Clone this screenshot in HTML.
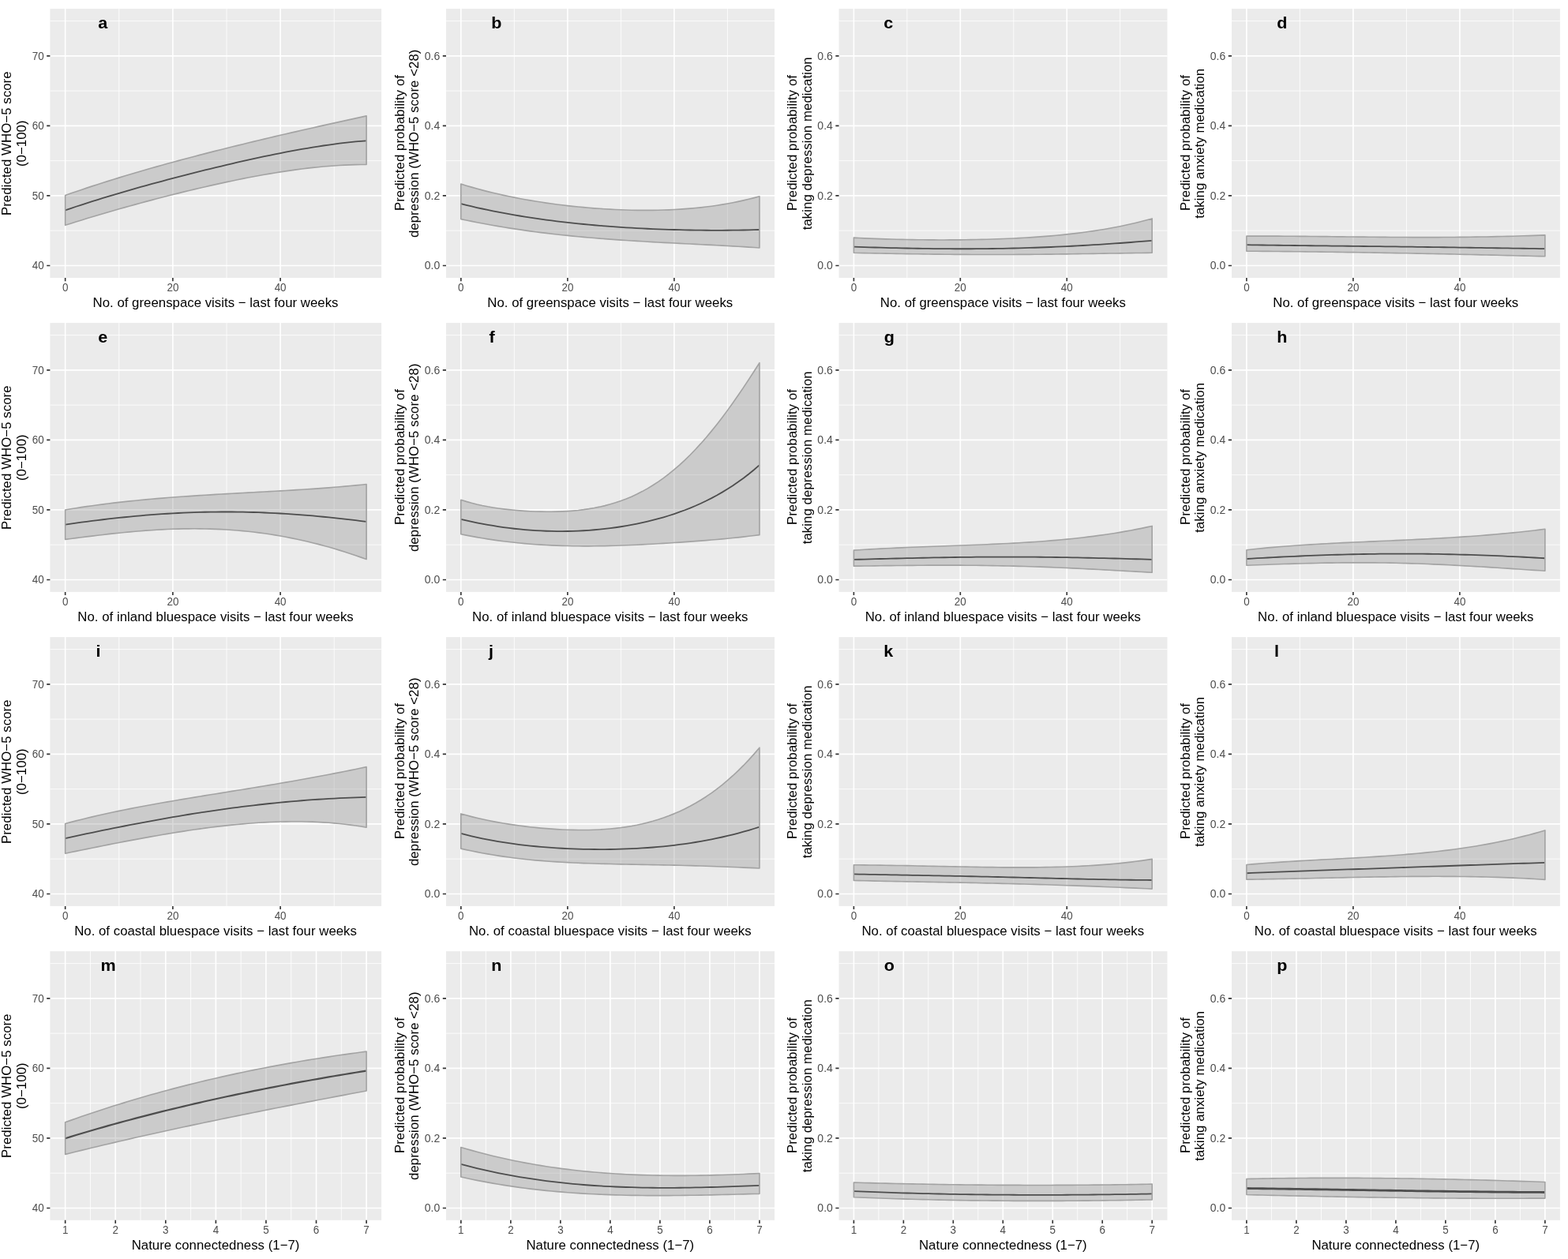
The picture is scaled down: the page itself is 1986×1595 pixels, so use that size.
<!DOCTYPE html>
<html lang="en"><head><meta charset="utf-8"><title>Predicted outcomes by nature visits and connectedness</title>
<style>
html,body{margin:0;padding:0;background:#fff}
body{width:1986px;height:1595px;overflow:hidden}
svg{display:block}
text{font-family:"Liberation Sans",Arial,Helvetica,sans-serif}
.tk{font-size:13.44px;fill:#4d4d4d}
.ax{font-size:16.8px;fill:#000}
.ay{letter-spacing:0.06px}
.axx{letter-spacing:0.02px}
.lb{font-size:19.6px;font-weight:bold;fill:#000}
.bg{fill:#ebebeb}
.gM{stroke:#fff;stroke-width:1.63;fill:none}
.gm{stroke:#fff;stroke-width:0.82;fill:none;stroke-opacity:1}
.t{stroke:#333;stroke-width:1.63;fill:none}
.rb{fill:#808080;fill-opacity:0.3;stroke:none}
.ro{fill:none;stroke:#a3a3a3;stroke-width:1.63;stroke-linejoin:round;stroke-opacity:1}
.ln{fill:none;stroke:#4d4d4d;stroke-width:1.8;stroke-linecap:butt}
</style></head><body>
<svg xmlns="http://www.w3.org/2000/svg" width="1986" height="1595" viewBox="0 0 1986 1595">
<rect width="1986" height="1595" fill="#fff"/>
<g id="panel-a">
<rect class="bg" x="63.4" y="11.1" width="419.7" height="340.85"/>
<path class="gm" d="M63.4 26.59H483.1M63.4 115.12H483.1M63.4 203.65H483.1M63.4 292.19H483.1M150.77 11.1V351.95M287 11.1V351.95M423.23 11.1V351.95"/>
<path class="gM" d="M63.4 70.86H483.1M63.4 159.39H483.1M63.4 247.92H483.1M63.4 336.45H483.1M82.65 11.1V351.95M218.88 11.1V351.95M355.11 11.1V351.95"/>
<polygon class="rb" points="82.65,247.41 89.46,245.04 96.27,242.71 103.08,240.4 109.9,238.13 116.71,235.89 123.52,233.68 130.33,231.5 137.14,229.35 143.95,227.22 150.77,225.12 157.58,223.05 164.39,221.01 171.2,218.99 178.01,216.99 184.82,215.01 191.64,213.06 198.45,211.13 205.26,209.22 212.07,207.33 218.88,205.46 225.69,203.61 232.51,201.78 239.32,199.97 246.13,198.17 252.94,196.39 259.75,194.62 266.56,192.87 273.38,191.14 280.19,189.42 287,187.72 293.81,186.02 300.62,184.34 307.43,182.68 314.24,181.02 321.06,179.38 327.87,177.74 334.68,176.12 341.49,174.51 348.3,172.91 355.11,171.32 361.93,169.73 368.74,168.16 375.55,166.6 382.36,165.04 389.17,163.49 395.98,161.95 402.8,160.41 409.61,158.89 416.42,157.37 423.23,155.86 430.04,154.35 436.85,152.85 443.67,151.36 450.48,149.87 457.29,148.39 464.1,146.91 464.1,208.47 457.29,208.51 450.48,208.64 443.67,208.85 436.85,209.14 430.04,209.5 423.23,209.95 416.42,210.46 409.61,211.04 402.8,211.69 395.98,212.4 389.17,213.17 382.36,214.01 375.55,214.89 368.74,215.84 361.93,216.83 355.11,217.87 348.3,218.96 341.49,220.1 334.68,221.28 327.87,222.5 321.06,223.76 314.24,225.06 307.43,226.4 300.62,227.77 293.81,229.18 287,230.62 280.19,232.09 273.38,233.59 266.56,235.11 259.75,236.67 252.94,238.25 246.13,239.86 239.32,241.5 232.51,243.16 225.69,244.84 218.88,246.55 212.07,248.27 205.26,250.02 198.45,251.8 191.64,253.59 184.82,255.41 178.01,257.25 171.2,259.1 164.39,260.98 157.58,262.89 150.77,264.81 143.95,266.76 137.14,268.72 130.33,270.71 123.52,272.73 116.71,274.77 109.9,276.83 103.08,278.92 96.27,281.03 89.46,283.17 82.65,285.34"/>
<polyline class="ln" points="82.65,266.36 89.46,264.05 96.27,261.77 103.08,259.53 109.9,257.33 116.71,255.16 123.52,253.03 130.33,250.93 137.14,248.86 143.95,246.82 150.77,244.81 157.58,242.82 164.39,240.85 171.2,238.91 178.01,236.99 184.82,235.1 191.64,233.22 198.45,231.36 205.26,229.53 212.07,227.71 218.88,225.91 225.69,224.13 232.51,222.36 239.32,220.62 246.13,218.89 252.94,217.18 259.75,215.49 266.56,213.81 273.38,212.15 280.19,210.52 287,208.9 293.81,207.31 300.62,205.73 307.43,204.18 314.24,202.65 321.06,201.15 327.87,199.67 334.68,198.21 341.49,196.79 348.3,195.4 355.11,194.04 361.93,192.71 368.74,191.41 375.55,190.16 382.36,188.94 389.17,187.77 395.98,186.64 402.8,185.55 409.61,184.51 416.42,183.53 423.23,182.59 430.04,181.72 436.85,180.9 443.67,180.15 450.48,179.46 457.29,178.84 464.1,178.29"/>
<polygon class="ro" points="82.65,247.41 89.46,245.04 96.27,242.71 103.08,240.4 109.9,238.13 116.71,235.89 123.52,233.68 130.33,231.5 137.14,229.35 143.95,227.22 150.77,225.12 157.58,223.05 164.39,221.01 171.2,218.99 178.01,216.99 184.82,215.01 191.64,213.06 198.45,211.13 205.26,209.22 212.07,207.33 218.88,205.46 225.69,203.61 232.51,201.78 239.32,199.97 246.13,198.17 252.94,196.39 259.75,194.62 266.56,192.87 273.38,191.14 280.19,189.42 287,187.72 293.81,186.02 300.62,184.34 307.43,182.68 314.24,181.02 321.06,179.38 327.87,177.74 334.68,176.12 341.49,174.51 348.3,172.91 355.11,171.32 361.93,169.73 368.74,168.16 375.55,166.6 382.36,165.04 389.17,163.49 395.98,161.95 402.8,160.41 409.61,158.89 416.42,157.37 423.23,155.86 430.04,154.35 436.85,152.85 443.67,151.36 450.48,149.87 457.29,148.39 464.1,146.91 464.1,208.47 457.29,208.51 450.48,208.64 443.67,208.85 436.85,209.14 430.04,209.5 423.23,209.95 416.42,210.46 409.61,211.04 402.8,211.69 395.98,212.4 389.17,213.17 382.36,214.01 375.55,214.89 368.74,215.84 361.93,216.83 355.11,217.87 348.3,218.96 341.49,220.1 334.68,221.28 327.87,222.5 321.06,223.76 314.24,225.06 307.43,226.4 300.62,227.77 293.81,229.18 287,230.62 280.19,232.09 273.38,233.59 266.56,235.11 259.75,236.67 252.94,238.25 246.13,239.86 239.32,241.5 232.51,243.16 225.69,244.84 218.88,246.55 212.07,248.27 205.26,250.02 198.45,251.8 191.64,253.59 184.82,255.41 178.01,257.25 171.2,259.1 164.39,260.98 157.58,262.89 150.77,264.81 143.95,266.76 137.14,268.72 130.33,270.71 123.52,272.73 116.71,274.77 109.9,276.83 103.08,278.92 96.27,281.03 89.46,283.17 82.65,285.34"/>
<path class="t" d="M59.2 70.86H63.4M59.2 159.39H63.4M59.2 247.92H63.4M59.2 336.45H63.4M82.65 351.95V356.15M218.88 351.95V356.15M355.11 351.95V356.15"/>
<text class="tk" text-anchor="end" transform="translate(55.7 76) scale(1 1.1)">70</text>
<text class="tk" text-anchor="end" transform="translate(55.7 164) scale(1 1.1)">60</text>
<text class="tk" text-anchor="end" transform="translate(55.7 253) scale(1 1.1)">50</text>
<text class="tk" text-anchor="end" transform="translate(55.7 341) scale(1 1.1)">40</text>
<text class="tk" text-anchor="middle" transform="translate(82.65 369) scale(1 1.1)">0</text>
<text class="tk" text-anchor="middle" transform="translate(218.88 369) scale(1 1.1)">20</text>
<text class="tk" text-anchor="middle" transform="translate(355.11 369) scale(1 1.1)">40</text>
<text class="ax axx" text-anchor="middle" x="273.05" y="389">No. of greenspace visits − last four weeks</text>
<text class="ax ay" text-anchor="middle" transform="translate(14 181.72) rotate(-90)">Predicted WHO−5 score</text>
<text class="ax ay" text-anchor="middle" transform="translate(33 181.72) rotate(-90)">(0−100)</text>
<text class="lb" transform="translate(124.25 35.95) scale(1.1 1)">a</text>
</g>
<g id="panel-b">
<rect class="bg" x="565" y="11.1" width="416" height="340.85"/>
<path class="gm" d="M565 26.59H981M565 115.12H981M565 203.65H981M565 292.19H981M651.37 11.1V351.95M786.4 11.1V351.95M921.44 11.1V351.95"/>
<path class="gM" d="M565 70.86H981M565 159.39H981M565 247.92H981M565 336.45H981M583.85 11.1V351.95M718.89 11.1V351.95M853.92 11.1V351.95"/>
<polygon class="rb" points="583.85,233.09 590.6,235.16 597.35,237.14 604.11,239.04 610.86,240.85 617.61,242.59 624.36,244.24 631.11,245.82 637.86,247.33 644.62,248.77 651.37,250.14 658.12,251.45 664.87,252.7 671.62,253.88 678.38,255 685.13,256.07 691.88,257.08 698.63,258.04 705.38,258.94 712.13,259.79 718.89,260.59 725.64,261.34 732.39,262.03 739.14,262.68 745.89,263.27 752.64,263.82 759.4,264.31 766.15,264.76 772.9,265.15 779.65,265.49 786.4,265.78 793.16,266.01 799.91,266.2 806.66,266.32 813.41,266.39 820.16,266.4 826.91,266.35 833.67,266.24 840.42,266.06 847.17,265.82 853.92,265.51 860.67,265.13 867.43,264.67 874.18,264.14 880.93,263.53 887.68,262.84 894.43,262.06 901.18,261.2 907.94,260.24 914.69,259.18 921.44,258.03 928.19,256.77 934.94,255.4 941.69,253.92 948.45,252.33 955.2,250.61 961.95,248.76 961.95,313.94 955.2,313.49 948.45,313.07 941.69,312.66 934.94,312.26 928.19,311.87 921.44,311.5 914.69,311.14 907.94,310.78 901.18,310.43 894.43,310.08 887.68,309.74 880.93,309.4 874.18,309.06 867.43,308.72 860.67,308.38 853.92,308.04 847.17,307.68 840.42,307.33 833.67,306.96 826.91,306.59 820.16,306.21 813.41,305.81 806.66,305.41 799.91,304.99 793.16,304.55 786.4,304.1 779.65,303.63 772.9,303.14 766.15,302.63 759.4,302.1 752.64,301.55 745.89,300.98 739.14,300.38 732.39,299.75 725.64,299.1 718.89,298.43 712.13,297.72 705.38,296.98 698.63,296.22 691.88,295.42 685.13,294.59 678.38,293.72 671.62,292.82 664.87,291.89 658.12,290.92 651.37,289.91 644.62,288.86 637.86,287.78 631.11,286.65 624.36,285.49 617.61,284.28 610.86,283.03 604.11,281.74 597.35,280.4 590.6,279.02 583.85,277.6"/>
<polyline class="ln" points="583.85,258.18 590.6,259.85 597.35,261.46 604.11,263.01 610.86,264.5 617.61,265.94 624.36,267.33 631.11,268.66 637.86,269.95 644.62,271.18 651.37,272.37 658.12,273.51 664.87,274.61 671.62,275.66 678.38,276.67 685.13,277.63 691.88,278.56 698.63,279.45 705.38,280.3 712.13,281.11 718.89,281.89 725.64,282.63 732.39,283.34 739.14,284.01 745.89,284.65 752.64,285.26 759.4,285.84 766.15,286.39 772.9,286.91 779.65,287.4 786.4,287.86 793.16,288.29 799.91,288.7 806.66,289.08 813.41,289.43 820.16,289.76 826.91,290.06 833.67,290.34 840.42,290.59 847.17,290.82 853.92,291.02 860.67,291.2 867.43,291.36 874.18,291.49 880.93,291.6 887.68,291.68 894.43,291.74 901.18,291.78 907.94,291.79 914.69,291.78 921.44,291.75 928.19,291.69 934.94,291.61 941.69,291.5 948.45,291.36 955.2,291.21 961.95,291.02"/>
<polygon class="ro" points="583.85,233.09 590.6,235.16 597.35,237.14 604.11,239.04 610.86,240.85 617.61,242.59 624.36,244.24 631.11,245.82 637.86,247.33 644.62,248.77 651.37,250.14 658.12,251.45 664.87,252.7 671.62,253.88 678.38,255 685.13,256.07 691.88,257.08 698.63,258.04 705.38,258.94 712.13,259.79 718.89,260.59 725.64,261.34 732.39,262.03 739.14,262.68 745.89,263.27 752.64,263.82 759.4,264.31 766.15,264.76 772.9,265.15 779.65,265.49 786.4,265.78 793.16,266.01 799.91,266.2 806.66,266.32 813.41,266.39 820.16,266.4 826.91,266.35 833.67,266.24 840.42,266.06 847.17,265.82 853.92,265.51 860.67,265.13 867.43,264.67 874.18,264.14 880.93,263.53 887.68,262.84 894.43,262.06 901.18,261.2 907.94,260.24 914.69,259.18 921.44,258.03 928.19,256.77 934.94,255.4 941.69,253.92 948.45,252.33 955.2,250.61 961.95,248.76 961.95,313.94 955.2,313.49 948.45,313.07 941.69,312.66 934.94,312.26 928.19,311.87 921.44,311.5 914.69,311.14 907.94,310.78 901.18,310.43 894.43,310.08 887.68,309.74 880.93,309.4 874.18,309.06 867.43,308.72 860.67,308.38 853.92,308.04 847.17,307.68 840.42,307.33 833.67,306.96 826.91,306.59 820.16,306.21 813.41,305.81 806.66,305.41 799.91,304.99 793.16,304.55 786.4,304.1 779.65,303.63 772.9,303.14 766.15,302.63 759.4,302.1 752.64,301.55 745.89,300.98 739.14,300.38 732.39,299.75 725.64,299.1 718.89,298.43 712.13,297.72 705.38,296.98 698.63,296.22 691.88,295.42 685.13,294.59 678.38,293.72 671.62,292.82 664.87,291.89 658.12,290.92 651.37,289.91 644.62,288.86 637.86,287.78 631.11,286.65 624.36,285.49 617.61,284.28 610.86,283.03 604.11,281.74 597.35,280.4 590.6,279.02 583.85,277.6"/>
<path class="t" d="M560.8 70.86H565M560.8 159.39H565M560.8 247.92H565M560.8 336.45H565M583.85 351.95V356.15M718.89 351.95V356.15M853.92 351.95V356.15"/>
<text class="tk" text-anchor="end" transform="translate(557.3 76) scale(1.045 1.1)">0.6</text>
<text class="tk" text-anchor="end" transform="translate(557.3 164) scale(1.045 1.1)">0.4</text>
<text class="tk" text-anchor="end" transform="translate(557.3 253) scale(1.045 1.1)">0.2</text>
<text class="tk" text-anchor="end" transform="translate(557.3 341) scale(1.045 1.1)">0.0</text>
<text class="tk" text-anchor="middle" transform="translate(583.85 369) scale(1 1.1)">0</text>
<text class="tk" text-anchor="middle" transform="translate(718.89 369) scale(1 1.1)">20</text>
<text class="tk" text-anchor="middle" transform="translate(853.92 369) scale(1 1.1)">40</text>
<text class="ax axx" text-anchor="middle" x="772.8" y="389">No. of greenspace visits − last four weeks</text>
<text class="ax ay" text-anchor="middle" transform="translate(511.9 181.03) rotate(-90)">Predicted probability of</text>
<text class="ax ay" text-anchor="middle" transform="translate(530 181.78) rotate(-90)">depression (WHO−5 score &lt;28)</text>
<text class="lb" transform="translate(622.29 35.95) scale(1.1 1)">b</text>
</g>
<g id="panel-c">
<rect class="bg" x="1062.55" y="11.1" width="415.95" height="340.85"/>
<path class="gm" d="M1062.55 26.59H1478.5M1062.55 115.12H1478.5M1062.55 203.65H1478.5M1062.55 292.19H1478.5M1148.86 11.1V351.95M1283.79 11.1V351.95M1418.72 11.1V351.95"/>
<path class="gM" d="M1062.55 70.86H1478.5M1062.55 159.39H1478.5M1062.55 247.92H1478.5M1062.55 336.45H1478.5M1081.4 11.1V351.95M1216.33 11.1V351.95M1351.26 11.1V351.95"/>
<polygon class="rb" points="1081.4,301.17 1088.15,301.51 1094.89,301.83 1101.64,302.12 1108.39,302.38 1115.13,302.62 1121.88,302.84 1128.62,303.04 1135.37,303.22 1142.12,303.38 1148.86,303.52 1155.61,303.63 1162.36,303.73 1169.1,303.81 1175.85,303.87 1182.6,303.91 1189.34,303.94 1196.09,303.94 1202.84,303.92 1209.58,303.89 1216.33,303.83 1223.07,303.75 1229.82,303.65 1236.57,303.53 1243.31,303.38 1250.06,303.21 1256.81,303.02 1263.55,302.8 1270.3,302.55 1277.05,302.27 1283.79,301.96 1290.54,301.63 1297.29,301.25 1304.03,300.85 1310.78,300.41 1317.53,299.93 1324.27,299.41 1331.02,298.85 1337.76,298.24 1344.51,297.59 1351.26,296.89 1358,296.14 1364.75,295.33 1371.5,294.48 1378.24,293.56 1384.99,292.58 1391.74,291.54 1398.48,290.43 1405.23,289.25 1411.97,288 1418.72,286.68 1425.47,285.27 1432.21,283.79 1438.96,282.22 1445.71,280.55 1452.45,278.8 1459.2,276.95 1459.2,320.28 1452.45,320.37 1445.71,320.46 1438.96,320.55 1432.21,320.64 1425.47,320.74 1418.72,320.85 1411.97,320.95 1405.23,321.05 1398.48,321.16 1391.74,321.26 1384.99,321.36 1378.24,321.46 1371.5,321.56 1364.75,321.66 1358,321.75 1351.26,321.84 1344.51,321.92 1337.76,322 1331.02,322.08 1324.27,322.15 1317.53,322.22 1310.78,322.28 1304.03,322.33 1297.29,322.38 1290.54,322.42 1283.79,322.45 1277.05,322.48 1270.3,322.5 1263.55,322.51 1256.81,322.51 1250.06,322.51 1243.31,322.5 1236.57,322.48 1229.82,322.46 1223.07,322.42 1216.33,322.38 1209.58,322.34 1202.84,322.28 1196.09,322.22 1189.34,322.15 1182.6,322.07 1175.85,321.99 1169.1,321.9 1162.36,321.81 1155.61,321.71 1148.86,321.6 1142.12,321.49 1135.37,321.37 1128.62,321.25 1121.88,321.12 1115.13,320.99 1108.39,320.86 1101.64,320.72 1094.89,320.58 1088.15,320.44 1081.4,320.3"/>
<polyline class="ln" points="1081.4,312.72 1088.15,312.93 1094.89,313.13 1101.64,313.32 1108.39,313.51 1115.13,313.7 1121.88,313.88 1128.62,314.05 1135.37,314.21 1142.12,314.36 1148.86,314.5 1155.61,314.63 1162.36,314.75 1169.1,314.86 1175.85,314.96 1182.6,315.04 1189.34,315.11 1196.09,315.17 1202.84,315.21 1209.58,315.24 1216.33,315.26 1223.07,315.26 1229.82,315.24 1236.57,315.21 1243.31,315.16 1250.06,315.09 1256.81,315.01 1263.55,314.91 1270.3,314.8 1277.05,314.66 1283.79,314.51 1290.54,314.35 1297.29,314.16 1304.03,313.96 1310.78,313.74 1317.53,313.5 1324.27,313.25 1331.02,312.98 1337.76,312.69 1344.51,312.39 1351.26,312.06 1358,311.73 1364.75,311.37 1371.5,311 1378.24,310.61 1384.99,310.21 1391.74,309.79 1398.48,309.36 1405.23,308.91 1411.97,308.45 1418.72,307.98 1425.47,307.49 1432.21,306.99 1438.96,306.47 1445.71,305.95 1452.45,305.41 1459.2,304.87"/>
<polygon class="ro" points="1081.4,301.17 1088.15,301.51 1094.89,301.83 1101.64,302.12 1108.39,302.38 1115.13,302.62 1121.88,302.84 1128.62,303.04 1135.37,303.22 1142.12,303.38 1148.86,303.52 1155.61,303.63 1162.36,303.73 1169.1,303.81 1175.85,303.87 1182.6,303.91 1189.34,303.94 1196.09,303.94 1202.84,303.92 1209.58,303.89 1216.33,303.83 1223.07,303.75 1229.82,303.65 1236.57,303.53 1243.31,303.38 1250.06,303.21 1256.81,303.02 1263.55,302.8 1270.3,302.55 1277.05,302.27 1283.79,301.96 1290.54,301.63 1297.29,301.25 1304.03,300.85 1310.78,300.41 1317.53,299.93 1324.27,299.41 1331.02,298.85 1337.76,298.24 1344.51,297.59 1351.26,296.89 1358,296.14 1364.75,295.33 1371.5,294.48 1378.24,293.56 1384.99,292.58 1391.74,291.54 1398.48,290.43 1405.23,289.25 1411.97,288 1418.72,286.68 1425.47,285.27 1432.21,283.79 1438.96,282.22 1445.71,280.55 1452.45,278.8 1459.2,276.95 1459.2,320.28 1452.45,320.37 1445.71,320.46 1438.96,320.55 1432.21,320.64 1425.47,320.74 1418.72,320.85 1411.97,320.95 1405.23,321.05 1398.48,321.16 1391.74,321.26 1384.99,321.36 1378.24,321.46 1371.5,321.56 1364.75,321.66 1358,321.75 1351.26,321.84 1344.51,321.92 1337.76,322 1331.02,322.08 1324.27,322.15 1317.53,322.22 1310.78,322.28 1304.03,322.33 1297.29,322.38 1290.54,322.42 1283.79,322.45 1277.05,322.48 1270.3,322.5 1263.55,322.51 1256.81,322.51 1250.06,322.51 1243.31,322.5 1236.57,322.48 1229.82,322.46 1223.07,322.42 1216.33,322.38 1209.58,322.34 1202.84,322.28 1196.09,322.22 1189.34,322.15 1182.6,322.07 1175.85,321.99 1169.1,321.9 1162.36,321.81 1155.61,321.71 1148.86,321.6 1142.12,321.49 1135.37,321.37 1128.62,321.25 1121.88,321.12 1115.13,320.99 1108.39,320.86 1101.64,320.72 1094.89,320.58 1088.15,320.44 1081.4,320.3"/>
<path class="t" d="M1058.35 70.86H1062.55M1058.35 159.39H1062.55M1058.35 247.92H1062.55M1058.35 336.45H1062.55M1081.4 351.95V356.15M1216.33 351.95V356.15M1351.26 351.95V356.15"/>
<text class="tk" text-anchor="end" transform="translate(1054.85 76) scale(1.045 1.1)">0.6</text>
<text class="tk" text-anchor="end" transform="translate(1054.85 164) scale(1.045 1.1)">0.4</text>
<text class="tk" text-anchor="end" transform="translate(1054.85 253) scale(1.045 1.1)">0.2</text>
<text class="tk" text-anchor="end" transform="translate(1054.85 341) scale(1.045 1.1)">0.0</text>
<text class="tk" text-anchor="middle" transform="translate(1081.4 369) scale(1 1.1)">0</text>
<text class="tk" text-anchor="middle" transform="translate(1216.33 369) scale(1 1.1)">20</text>
<text class="tk" text-anchor="middle" transform="translate(1351.26 369) scale(1 1.1)">40</text>
<text class="ax axx" text-anchor="middle" x="1270.33" y="389">No. of greenspace visits − last four weeks</text>
<text class="ax ay" text-anchor="middle" transform="translate(1009.45 181.03) rotate(-90)">Predicted probability of</text>
<text class="ax ay" text-anchor="middle" transform="translate(1027.55 181.78) rotate(-90)">taking depression medication</text>
<text class="lb" transform="translate(1119.25 35.95) scale(1.1 1)">c</text>
</g>
<g id="panel-d">
<rect class="bg" x="1560" y="11.1" width="415.9" height="340.85"/>
<path class="gm" d="M1560 26.59H1975.9M1560 115.12H1975.9M1560 203.65H1975.9M1560 292.19H1975.9M1646.4 11.1V351.95M1781.4 11.1V351.95M1916.4 11.1V351.95"/>
<path class="gM" d="M1560 70.86H1975.9M1560 159.39H1975.9M1560 247.92H1975.9M1560 336.45H1975.9M1578.9 11.1V351.95M1713.9 11.1V351.95M1848.9 11.1V351.95"/>
<polygon class="rb" points="1578.9,299.11 1585.65,299.1 1592.4,299.09 1599.15,299.1 1605.9,299.12 1612.65,299.14 1619.4,299.17 1626.15,299.21 1632.9,299.26 1639.65,299.31 1646.4,299.36 1653.15,299.42 1659.9,299.48 1666.65,299.55 1673.4,299.61 1680.15,299.68 1686.9,299.75 1693.65,299.83 1700.4,299.9 1707.15,299.97 1713.9,300.04 1720.65,300.1 1727.4,300.17 1734.15,300.23 1740.9,300.29 1747.65,300.34 1754.4,300.39 1761.15,300.44 1767.9,300.48 1774.65,300.51 1781.4,300.54 1788.15,300.56 1794.9,300.58 1801.65,300.59 1808.4,300.58 1815.15,300.58 1821.9,300.56 1828.65,300.53 1835.4,300.49 1842.15,300.45 1848.9,300.39 1855.65,300.32 1862.4,300.25 1869.15,300.16 1875.9,300.06 1882.65,299.94 1889.4,299.82 1896.15,299.68 1902.9,299.53 1909.65,299.37 1916.4,299.2 1923.15,299.01 1929.9,298.81 1936.65,298.59 1943.4,298.36 1950.15,298.12 1956.9,297.86 1956.9,324.8 1950.15,324.63 1943.4,324.46 1936.65,324.29 1929.9,324.13 1923.15,323.96 1916.4,323.79 1909.65,323.63 1902.9,323.46 1896.15,323.3 1889.4,323.14 1882.65,322.98 1875.9,322.82 1869.15,322.66 1862.4,322.51 1855.65,322.35 1848.9,322.2 1842.15,322.05 1835.4,321.91 1828.65,321.76 1821.9,321.62 1815.15,321.48 1808.4,321.34 1801.65,321.21 1794.9,321.07 1788.15,320.94 1781.4,320.81 1774.65,320.69 1767.9,320.57 1761.15,320.44 1754.4,320.33 1747.65,320.21 1740.9,320.1 1734.15,319.99 1727.4,319.88 1720.65,319.78 1713.9,319.68 1707.15,319.58 1700.4,319.48 1693.65,319.39 1686.9,319.3 1680.15,319.21 1673.4,319.13 1666.65,319.04 1659.9,318.97 1653.15,318.89 1646.4,318.81 1639.65,318.74 1632.9,318.67 1626.15,318.6 1619.4,318.54 1612.65,318.48 1605.9,318.42 1599.15,318.36 1592.4,318.3 1585.65,318.25 1578.9,318.2"/>
<polyline class="ln" points="1578.9,310.2 1585.65,310.3 1592.4,310.4 1599.15,310.5 1605.9,310.59 1612.65,310.68 1619.4,310.77 1626.15,310.85 1632.9,310.93 1639.65,311.01 1646.4,311.09 1653.15,311.17 1659.9,311.24 1666.65,311.32 1673.4,311.39 1680.15,311.47 1686.9,311.54 1693.65,311.61 1700.4,311.69 1707.15,311.76 1713.9,311.84 1720.65,311.91 1727.4,311.99 1734.15,312.06 1740.9,312.14 1747.65,312.22 1754.4,312.3 1761.15,312.38 1767.9,312.47 1774.65,312.55 1781.4,312.64 1788.15,312.72 1794.9,312.81 1801.65,312.9 1808.4,312.99 1815.15,313.09 1821.9,313.18 1828.65,313.27 1835.4,313.37 1842.15,313.47 1848.9,313.56 1855.65,313.66 1862.4,313.76 1869.15,313.86 1875.9,313.96 1882.65,314.06 1889.4,314.16 1896.15,314.26 1902.9,314.36 1909.65,314.46 1916.4,314.56 1923.15,314.66 1929.9,314.75 1936.65,314.85 1943.4,314.94 1950.15,315.03 1956.9,315.11"/>
<polygon class="ro" points="1578.9,299.11 1585.65,299.1 1592.4,299.09 1599.15,299.1 1605.9,299.12 1612.65,299.14 1619.4,299.17 1626.15,299.21 1632.9,299.26 1639.65,299.31 1646.4,299.36 1653.15,299.42 1659.9,299.48 1666.65,299.55 1673.4,299.61 1680.15,299.68 1686.9,299.75 1693.65,299.83 1700.4,299.9 1707.15,299.97 1713.9,300.04 1720.65,300.1 1727.4,300.17 1734.15,300.23 1740.9,300.29 1747.65,300.34 1754.4,300.39 1761.15,300.44 1767.9,300.48 1774.65,300.51 1781.4,300.54 1788.15,300.56 1794.9,300.58 1801.65,300.59 1808.4,300.58 1815.15,300.58 1821.9,300.56 1828.65,300.53 1835.4,300.49 1842.15,300.45 1848.9,300.39 1855.65,300.32 1862.4,300.25 1869.15,300.16 1875.9,300.06 1882.65,299.94 1889.4,299.82 1896.15,299.68 1902.9,299.53 1909.65,299.37 1916.4,299.2 1923.15,299.01 1929.9,298.81 1936.65,298.59 1943.4,298.36 1950.15,298.12 1956.9,297.86 1956.9,324.8 1950.15,324.63 1943.4,324.46 1936.65,324.29 1929.9,324.13 1923.15,323.96 1916.4,323.79 1909.65,323.63 1902.9,323.46 1896.15,323.3 1889.4,323.14 1882.65,322.98 1875.9,322.82 1869.15,322.66 1862.4,322.51 1855.65,322.35 1848.9,322.2 1842.15,322.05 1835.4,321.91 1828.65,321.76 1821.9,321.62 1815.15,321.48 1808.4,321.34 1801.65,321.21 1794.9,321.07 1788.15,320.94 1781.4,320.81 1774.65,320.69 1767.9,320.57 1761.15,320.44 1754.4,320.33 1747.65,320.21 1740.9,320.1 1734.15,319.99 1727.4,319.88 1720.65,319.78 1713.9,319.68 1707.15,319.58 1700.4,319.48 1693.65,319.39 1686.9,319.3 1680.15,319.21 1673.4,319.13 1666.65,319.04 1659.9,318.97 1653.15,318.89 1646.4,318.81 1639.65,318.74 1632.9,318.67 1626.15,318.6 1619.4,318.54 1612.65,318.48 1605.9,318.42 1599.15,318.36 1592.4,318.3 1585.65,318.25 1578.9,318.2"/>
<path class="t" d="M1555.8 70.86H1560M1555.8 159.39H1560M1555.8 247.92H1560M1555.8 336.45H1560M1578.9 351.95V356.15M1713.9 351.95V356.15M1848.9 351.95V356.15"/>
<text class="tk" text-anchor="end" transform="translate(1552.3 76) scale(1.045 1.1)">0.6</text>
<text class="tk" text-anchor="end" transform="translate(1552.3 164) scale(1.045 1.1)">0.4</text>
<text class="tk" text-anchor="end" transform="translate(1552.3 253) scale(1.045 1.1)">0.2</text>
<text class="tk" text-anchor="end" transform="translate(1552.3 341) scale(1.045 1.1)">0.0</text>
<text class="tk" text-anchor="middle" transform="translate(1578.9 369) scale(1 1.1)">0</text>
<text class="tk" text-anchor="middle" transform="translate(1713.9 369) scale(1 1.1)">20</text>
<text class="tk" text-anchor="middle" transform="translate(1848.9 369) scale(1 1.1)">40</text>
<text class="ax axx" text-anchor="middle" x="1767.75" y="389">No. of greenspace visits − last four weeks</text>
<text class="ax ay" text-anchor="middle" transform="translate(1506.9 181.03) rotate(-90)">Predicted probability of</text>
<text class="ax ay" text-anchor="middle" transform="translate(1525 181.78) rotate(-90)">taking anxiety medication</text>
<text class="lb" transform="translate(1617.29 35.95) scale(1.1 1)">d</text>
</g>
<g id="panel-e">
<rect class="bg" x="63.4" y="409.1" width="419.7" height="340.8"/>
<path class="gm" d="M63.4 424.59H483.1M63.4 513.12H483.1M63.4 601.65H483.1M63.4 690.19H483.1M150.77 409.1V749.9M287 409.1V749.9M423.23 409.1V749.9"/>
<path class="gM" d="M63.4 468.86H483.1M63.4 557.39H483.1M63.4 645.92H483.1M63.4 734.45H483.1M82.65 409.1V749.9M218.88 409.1V749.9M355.11 409.1V749.9"/>
<polygon class="rb" points="82.65,645.95 89.46,644.81 96.27,643.72 103.08,642.67 109.9,641.66 116.71,640.69 123.52,639.76 130.33,638.86 137.14,638 143.95,637.18 150.77,636.38 157.58,635.62 164.39,634.9 171.2,634.2 178.01,633.53 184.82,632.88 191.64,632.26 198.45,631.67 205.26,631.1 212.07,630.56 218.88,630.03 225.69,629.53 232.51,629.04 239.32,628.57 246.13,628.11 252.94,627.67 259.75,627.25 266.56,626.83 273.38,626.43 280.19,626.03 287,625.64 293.81,625.26 300.62,624.89 307.43,624.51 314.24,624.14 321.06,623.77 327.87,623.4 334.68,623.03 341.49,622.65 348.3,622.27 355.11,621.88 361.93,621.48 368.74,621.08 375.55,620.66 382.36,620.23 389.17,619.78 395.98,619.32 402.8,618.85 409.61,618.35 416.42,617.83 423.23,617.3 430.04,616.73 436.85,616.15 443.67,615.53 450.48,614.89 457.29,614.22 464.1,613.51 464.1,708.58 457.29,706.13 450.48,703.76 443.67,701.47 436.85,699.25 430.04,697.12 423.23,695.07 416.42,693.09 409.61,691.2 402.8,689.39 395.98,687.67 389.17,686.02 382.36,684.46 375.55,682.98 368.74,681.58 361.93,680.26 355.11,679.03 348.3,677.87 341.49,676.8 334.68,675.81 327.87,674.89 321.06,674.06 314.24,673.3 307.43,672.62 300.62,672.02 293.81,671.49 287,671.04 280.19,670.65 273.38,670.35 266.56,670.11 259.75,669.94 252.94,669.84 246.13,669.8 239.32,669.83 232.51,669.92 225.69,670.08 218.88,670.29 212.07,670.56 205.26,670.89 198.45,671.26 191.64,671.69 184.82,672.17 178.01,672.69 171.2,673.26 164.39,673.87 157.58,674.52 150.77,675.2 143.95,675.92 137.14,676.67 130.33,677.45 123.52,678.25 116.71,679.07 109.9,679.91 103.08,680.77 96.27,681.63 89.46,682.51 82.65,683.39"/>
<polyline class="ln" points="82.65,664.59 89.46,663.61 96.27,662.66 103.08,661.73 109.9,660.82 116.71,659.94 123.52,659.09 130.33,658.26 137.14,657.46 143.95,656.68 150.77,655.94 157.58,655.23 164.39,654.55 171.2,653.91 178.01,653.29 184.82,652.71 191.64,652.17 198.45,651.66 205.26,651.19 212.07,650.75 218.88,650.35 225.69,649.99 232.51,649.67 239.32,649.38 246.13,649.14 252.94,648.93 259.75,648.76 266.56,648.63 273.38,648.54 280.19,648.49 287,648.48 293.81,648.5 300.62,648.57 307.43,648.68 314.24,648.82 321.06,649 327.87,649.22 334.68,649.48 341.49,649.78 348.3,650.12 355.11,650.49 361.93,650.9 368.74,651.34 375.55,651.82 382.36,652.34 389.17,652.89 395.98,653.47 402.8,654.08 409.61,654.73 416.42,655.41 423.23,656.11 430.04,656.85 436.85,657.62 443.67,658.41 450.48,659.23 457.29,660.07 464.1,660.93"/>
<polygon class="ro" points="82.65,645.95 89.46,644.81 96.27,643.72 103.08,642.67 109.9,641.66 116.71,640.69 123.52,639.76 130.33,638.86 137.14,638 143.95,637.18 150.77,636.38 157.58,635.62 164.39,634.9 171.2,634.2 178.01,633.53 184.82,632.88 191.64,632.26 198.45,631.67 205.26,631.1 212.07,630.56 218.88,630.03 225.69,629.53 232.51,629.04 239.32,628.57 246.13,628.11 252.94,627.67 259.75,627.25 266.56,626.83 273.38,626.43 280.19,626.03 287,625.64 293.81,625.26 300.62,624.89 307.43,624.51 314.24,624.14 321.06,623.77 327.87,623.4 334.68,623.03 341.49,622.65 348.3,622.27 355.11,621.88 361.93,621.48 368.74,621.08 375.55,620.66 382.36,620.23 389.17,619.78 395.98,619.32 402.8,618.85 409.61,618.35 416.42,617.83 423.23,617.3 430.04,616.73 436.85,616.15 443.67,615.53 450.48,614.89 457.29,614.22 464.1,613.51 464.1,708.58 457.29,706.13 450.48,703.76 443.67,701.47 436.85,699.25 430.04,697.12 423.23,695.07 416.42,693.09 409.61,691.2 402.8,689.39 395.98,687.67 389.17,686.02 382.36,684.46 375.55,682.98 368.74,681.58 361.93,680.26 355.11,679.03 348.3,677.87 341.49,676.8 334.68,675.81 327.87,674.89 321.06,674.06 314.24,673.3 307.43,672.62 300.62,672.02 293.81,671.49 287,671.04 280.19,670.65 273.38,670.35 266.56,670.11 259.75,669.94 252.94,669.84 246.13,669.8 239.32,669.83 232.51,669.92 225.69,670.08 218.88,670.29 212.07,670.56 205.26,670.89 198.45,671.26 191.64,671.69 184.82,672.17 178.01,672.69 171.2,673.26 164.39,673.87 157.58,674.52 150.77,675.2 143.95,675.92 137.14,676.67 130.33,677.45 123.52,678.25 116.71,679.07 109.9,679.91 103.08,680.77 96.27,681.63 89.46,682.51 82.65,683.39"/>
<path class="t" d="M59.2 468.86H63.4M59.2 557.39H63.4M59.2 645.92H63.4M59.2 734.45H63.4M82.65 749.9V754.1M218.88 749.9V754.1M355.11 749.9V754.1"/>
<text class="tk" text-anchor="end" transform="translate(55.7 474) scale(1 1.1)">70</text>
<text class="tk" text-anchor="end" transform="translate(55.7 562) scale(1 1.1)">60</text>
<text class="tk" text-anchor="end" transform="translate(55.7 651) scale(1 1.1)">50</text>
<text class="tk" text-anchor="end" transform="translate(55.7 739) scale(1 1.1)">40</text>
<text class="tk" text-anchor="middle" transform="translate(82.65 767) scale(1 1.1)">0</text>
<text class="tk" text-anchor="middle" transform="translate(218.88 767) scale(1 1.1)">20</text>
<text class="tk" text-anchor="middle" transform="translate(355.11 767) scale(1 1.1)">40</text>
<text class="ax axx" text-anchor="middle" x="273.05" y="787">No. of inland bluespace visits − last four weeks</text>
<text class="ax ay" text-anchor="middle" transform="translate(14 579.7) rotate(-90)">Predicted WHO−5 score</text>
<text class="ax ay" text-anchor="middle" transform="translate(33 579.7) rotate(-90)">(0−100)</text>
<text class="lb" transform="translate(124.25 433.95) scale(1.1 1)">e</text>
</g>
<g id="panel-f">
<rect class="bg" x="565" y="409.1" width="416" height="340.8"/>
<path class="gm" d="M565 424.59H981M565 513.12H981M565 601.65H981M565 690.19H981M651.37 409.1V749.9M786.4 409.1V749.9M921.44 409.1V749.9"/>
<path class="gM" d="M565 468.86H981M565 557.39H981M565 645.92H981M565 734.45H981M583.85 409.1V749.9M718.89 409.1V749.9M853.92 409.1V749.9"/>
<polygon class="rb" points="583.85,633.22 590.6,635.39 597.35,637.31 604.11,639 610.86,640.49 617.61,641.8 624.36,642.95 631.11,643.96 637.86,644.85 644.62,645.62 651.37,646.29 658.12,646.85 664.87,647.33 671.62,647.7 678.38,647.99 685.13,648.18 691.88,648.28 698.63,648.27 705.38,648.16 712.13,647.93 718.89,647.57 725.64,647.08 732.39,646.44 739.14,645.64 745.89,644.67 752.64,643.52 759.4,642.17 766.15,640.61 772.9,638.83 779.65,636.8 786.4,634.52 793.16,631.97 799.91,629.14 806.66,626.02 813.41,622.59 820.16,618.84 826.91,614.75 833.67,610.33 840.42,605.56 847.17,600.43 853.92,594.94 860.67,589.08 867.43,582.85 874.18,576.25 880.93,569.27 887.68,561.92 894.43,554.21 901.18,546.14 907.94,537.71 914.69,528.95 921.44,519.87 928.19,510.47 934.94,500.79 941.69,490.85 948.45,480.67 955.2,470.27 961.95,459.71 961.95,677.63 955.2,678.49 948.45,679.31 941.69,680.09 934.94,680.82 928.19,681.52 921.44,682.19 914.69,682.83 907.94,683.44 901.18,684.02 894.43,684.59 887.68,685.13 880.93,685.65 874.18,686.16 867.43,686.64 860.67,687.11 853.92,687.56 847.17,688 840.42,688.41 833.67,688.81 826.91,689.19 820.16,689.55 813.41,689.89 806.66,690.21 799.91,690.5 793.16,690.77 786.4,691.01 779.65,691.23 772.9,691.41 766.15,691.57 759.4,691.68 752.64,691.77 745.89,691.81 739.14,691.81 732.39,691.78 725.64,691.69 718.89,691.56 712.13,691.39 705.38,691.16 698.63,690.88 691.88,690.54 685.13,690.15 678.38,689.7 671.62,689.19 664.87,688.63 658.12,688 651.37,687.3 644.62,686.55 637.86,685.72 631.11,684.84 624.36,683.88 617.61,682.87 610.86,681.78 604.11,680.64 597.35,679.42 590.6,678.15 583.85,676.81"/>
<polyline class="ln" points="583.85,657.83 590.6,659.38 597.35,660.86 604.11,662.27 610.86,663.59 617.61,664.83 624.36,665.98 631.11,667.05 637.86,668.04 644.62,668.93 651.37,669.74 658.12,670.46 664.87,671.1 671.62,671.64 678.38,672.1 685.13,672.47 691.88,672.75 698.63,672.94 705.38,673.05 712.13,673.06 718.89,672.99 725.64,672.83 732.39,672.57 739.14,672.23 745.89,671.8 752.64,671.27 759.4,670.66 766.15,669.95 772.9,669.14 779.65,668.24 786.4,667.24 793.16,666.14 799.91,664.93 806.66,663.62 813.41,662.19 820.16,660.65 826.91,658.99 833.67,657.21 840.42,655.3 847.17,653.25 853.92,651.06 860.67,648.72 867.43,646.23 874.18,643.57 880.93,640.74 887.68,637.73 894.43,634.52 901.18,631.11 907.94,627.49 914.69,623.64 921.44,619.55 928.19,615.21 934.94,610.6 941.69,605.7 948.45,600.51 955.2,594.99 961.95,589.15"/>
<polygon class="ro" points="583.85,633.22 590.6,635.39 597.35,637.31 604.11,639 610.86,640.49 617.61,641.8 624.36,642.95 631.11,643.96 637.86,644.85 644.62,645.62 651.37,646.29 658.12,646.85 664.87,647.33 671.62,647.7 678.38,647.99 685.13,648.18 691.88,648.28 698.63,648.27 705.38,648.16 712.13,647.93 718.89,647.57 725.64,647.08 732.39,646.44 739.14,645.64 745.89,644.67 752.64,643.52 759.4,642.17 766.15,640.61 772.9,638.83 779.65,636.8 786.4,634.52 793.16,631.97 799.91,629.14 806.66,626.02 813.41,622.59 820.16,618.84 826.91,614.75 833.67,610.33 840.42,605.56 847.17,600.43 853.92,594.94 860.67,589.08 867.43,582.85 874.18,576.25 880.93,569.27 887.68,561.92 894.43,554.21 901.18,546.14 907.94,537.71 914.69,528.95 921.44,519.87 928.19,510.47 934.94,500.79 941.69,490.85 948.45,480.67 955.2,470.27 961.95,459.71 961.95,677.63 955.2,678.49 948.45,679.31 941.69,680.09 934.94,680.82 928.19,681.52 921.44,682.19 914.69,682.83 907.94,683.44 901.18,684.02 894.43,684.59 887.68,685.13 880.93,685.65 874.18,686.16 867.43,686.64 860.67,687.11 853.92,687.56 847.17,688 840.42,688.41 833.67,688.81 826.91,689.19 820.16,689.55 813.41,689.89 806.66,690.21 799.91,690.5 793.16,690.77 786.4,691.01 779.65,691.23 772.9,691.41 766.15,691.57 759.4,691.68 752.64,691.77 745.89,691.81 739.14,691.81 732.39,691.78 725.64,691.69 718.89,691.56 712.13,691.39 705.38,691.16 698.63,690.88 691.88,690.54 685.13,690.15 678.38,689.7 671.62,689.19 664.87,688.63 658.12,688 651.37,687.3 644.62,686.55 637.86,685.72 631.11,684.84 624.36,683.88 617.61,682.87 610.86,681.78 604.11,680.64 597.35,679.42 590.6,678.15 583.85,676.81"/>
<path class="t" d="M560.8 468.86H565M560.8 557.39H565M560.8 645.92H565M560.8 734.45H565M583.85 749.9V754.1M718.89 749.9V754.1M853.92 749.9V754.1"/>
<text class="tk" text-anchor="end" transform="translate(557.3 474) scale(1.045 1.1)">0.6</text>
<text class="tk" text-anchor="end" transform="translate(557.3 562) scale(1.045 1.1)">0.4</text>
<text class="tk" text-anchor="end" transform="translate(557.3 651) scale(1.045 1.1)">0.2</text>
<text class="tk" text-anchor="end" transform="translate(557.3 739) scale(1.045 1.1)">0.0</text>
<text class="tk" text-anchor="middle" transform="translate(583.85 767) scale(1 1.1)">0</text>
<text class="tk" text-anchor="middle" transform="translate(718.89 767) scale(1 1.1)">20</text>
<text class="tk" text-anchor="middle" transform="translate(853.92 767) scale(1 1.1)">40</text>
<text class="ax axx" text-anchor="middle" x="772.8" y="787">No. of inland bluespace visits − last four weeks</text>
<text class="ax ay" text-anchor="middle" transform="translate(511.9 579) rotate(-90)">Predicted probability of</text>
<text class="ax ay" text-anchor="middle" transform="translate(530 579.75) rotate(-90)">depression (WHO−5 score &lt;28)</text>
<text class="lb" transform="translate(619.56 433.95) scale(1.1 1)">f</text>
</g>
<g id="panel-g">
<rect class="bg" x="1062.55" y="409.1" width="415.95" height="340.8"/>
<path class="gm" d="M1062.55 424.59H1478.5M1062.55 513.12H1478.5M1062.55 601.65H1478.5M1062.55 690.19H1478.5M1148.86 409.1V749.9M1283.79 409.1V749.9M1418.72 409.1V749.9"/>
<path class="gM" d="M1062.55 468.86H1478.5M1062.55 557.39H1478.5M1062.55 645.92H1478.5M1062.55 734.45H1478.5M1081.4 409.1V749.9M1216.33 409.1V749.9M1351.26 409.1V749.9"/>
<polygon class="rb" points="1081.4,697.13 1088.15,696.69 1094.89,696.27 1101.64,695.87 1108.39,695.49 1115.13,695.12 1121.88,694.78 1128.62,694.45 1135.37,694.14 1142.12,693.84 1148.86,693.55 1155.61,693.27 1162.36,693.01 1169.1,692.75 1175.85,692.49 1182.6,692.25 1189.34,692 1196.09,691.76 1202.84,691.52 1209.58,691.27 1216.33,691.03 1223.07,690.78 1229.82,690.52 1236.57,690.26 1243.31,689.99 1250.06,689.71 1256.81,689.42 1263.55,689.11 1270.3,688.79 1277.05,688.45 1283.79,688.09 1290.54,687.71 1297.29,687.31 1304.03,686.89 1310.78,686.44 1317.53,685.97 1324.27,685.46 1331.02,684.93 1337.76,684.36 1344.51,683.76 1351.26,683.12 1358,682.44 1364.75,681.73 1371.5,680.97 1378.24,680.17 1384.99,679.32 1391.74,678.42 1398.48,677.48 1405.23,676.49 1411.97,675.44 1418.72,674.33 1425.47,673.17 1432.21,671.95 1438.96,670.67 1445.71,669.33 1452.45,667.92 1459.2,666.44 1459.2,725.3 1452.45,724.92 1445.71,724.54 1438.96,724.15 1432.21,723.77 1425.47,723.39 1418.72,723.01 1411.97,722.63 1405.23,722.26 1398.48,721.89 1391.74,721.53 1384.99,721.17 1378.24,720.83 1371.5,720.49 1364.75,720.16 1358,719.84 1351.26,719.53 1344.51,719.24 1337.76,718.95 1331.02,718.68 1324.27,718.42 1317.53,718.17 1310.78,717.94 1304.03,717.72 1297.29,717.51 1290.54,717.32 1283.79,717.15 1277.05,716.98 1270.3,716.83 1263.55,716.7 1256.81,716.58 1250.06,716.47 1243.31,716.38 1236.57,716.3 1229.82,716.24 1223.07,716.19 1216.33,716.15 1209.58,716.12 1202.84,716.11 1196.09,716.11 1189.34,716.12 1182.6,716.14 1175.85,716.17 1169.1,716.21 1162.36,716.26 1155.61,716.31 1148.86,716.38 1142.12,716.45 1135.37,716.52 1128.62,716.6 1121.88,716.68 1115.13,716.77 1108.39,716.85 1101.64,716.94 1094.89,717.02 1088.15,717.11 1081.4,717.18"/>
<polyline class="ln" points="1081.4,708.9 1088.15,708.73 1094.89,708.55 1101.64,708.38 1108.39,708.2 1115.13,708.02 1121.88,707.85 1128.62,707.68 1135.37,707.51 1142.12,707.34 1148.86,707.18 1155.61,707.03 1162.36,706.88 1169.1,706.73 1175.85,706.6 1182.6,706.47 1189.34,706.34 1196.09,706.23 1202.84,706.12 1209.58,706.02 1216.33,705.93 1223.07,705.85 1229.82,705.78 1236.57,705.72 1243.31,705.67 1250.06,705.62 1256.81,705.59 1263.55,705.57 1270.3,705.56 1277.05,705.56 1283.79,705.57 1290.54,705.59 1297.29,705.62 1304.03,705.66 1310.78,705.71 1317.53,705.77 1324.27,705.84 1331.02,705.92 1337.76,706.01 1344.51,706.11 1351.26,706.22 1358,706.33 1364.75,706.46 1371.5,706.59 1378.24,706.73 1384.99,706.87 1391.74,707.03 1398.48,707.19 1405.23,707.35 1411.97,707.52 1418.72,707.7 1425.47,707.88 1432.21,708.06 1438.96,708.24 1445.71,708.43 1452.45,708.61 1459.2,708.8"/>
<polygon class="ro" points="1081.4,697.13 1088.15,696.69 1094.89,696.27 1101.64,695.87 1108.39,695.49 1115.13,695.12 1121.88,694.78 1128.62,694.45 1135.37,694.14 1142.12,693.84 1148.86,693.55 1155.61,693.27 1162.36,693.01 1169.1,692.75 1175.85,692.49 1182.6,692.25 1189.34,692 1196.09,691.76 1202.84,691.52 1209.58,691.27 1216.33,691.03 1223.07,690.78 1229.82,690.52 1236.57,690.26 1243.31,689.99 1250.06,689.71 1256.81,689.42 1263.55,689.11 1270.3,688.79 1277.05,688.45 1283.79,688.09 1290.54,687.71 1297.29,687.31 1304.03,686.89 1310.78,686.44 1317.53,685.97 1324.27,685.46 1331.02,684.93 1337.76,684.36 1344.51,683.76 1351.26,683.12 1358,682.44 1364.75,681.73 1371.5,680.97 1378.24,680.17 1384.99,679.32 1391.74,678.42 1398.48,677.48 1405.23,676.49 1411.97,675.44 1418.72,674.33 1425.47,673.17 1432.21,671.95 1438.96,670.67 1445.71,669.33 1452.45,667.92 1459.2,666.44 1459.2,725.3 1452.45,724.92 1445.71,724.54 1438.96,724.15 1432.21,723.77 1425.47,723.39 1418.72,723.01 1411.97,722.63 1405.23,722.26 1398.48,721.89 1391.74,721.53 1384.99,721.17 1378.24,720.83 1371.5,720.49 1364.75,720.16 1358,719.84 1351.26,719.53 1344.51,719.24 1337.76,718.95 1331.02,718.68 1324.27,718.42 1317.53,718.17 1310.78,717.94 1304.03,717.72 1297.29,717.51 1290.54,717.32 1283.79,717.15 1277.05,716.98 1270.3,716.83 1263.55,716.7 1256.81,716.58 1250.06,716.47 1243.31,716.38 1236.57,716.3 1229.82,716.24 1223.07,716.19 1216.33,716.15 1209.58,716.12 1202.84,716.11 1196.09,716.11 1189.34,716.12 1182.6,716.14 1175.85,716.17 1169.1,716.21 1162.36,716.26 1155.61,716.31 1148.86,716.38 1142.12,716.45 1135.37,716.52 1128.62,716.6 1121.88,716.68 1115.13,716.77 1108.39,716.85 1101.64,716.94 1094.89,717.02 1088.15,717.11 1081.4,717.18"/>
<path class="t" d="M1058.35 468.86H1062.55M1058.35 557.39H1062.55M1058.35 645.92H1062.55M1058.35 734.45H1062.55M1081.4 749.9V754.1M1216.33 749.9V754.1M1351.26 749.9V754.1"/>
<text class="tk" text-anchor="end" transform="translate(1054.85 474) scale(1.045 1.1)">0.6</text>
<text class="tk" text-anchor="end" transform="translate(1054.85 562) scale(1.045 1.1)">0.4</text>
<text class="tk" text-anchor="end" transform="translate(1054.85 651) scale(1.045 1.1)">0.2</text>
<text class="tk" text-anchor="end" transform="translate(1054.85 739) scale(1.045 1.1)">0.0</text>
<text class="tk" text-anchor="middle" transform="translate(1081.4 767) scale(1 1.1)">0</text>
<text class="tk" text-anchor="middle" transform="translate(1216.33 767) scale(1 1.1)">20</text>
<text class="tk" text-anchor="middle" transform="translate(1351.26 767) scale(1 1.1)">40</text>
<text class="ax axx" text-anchor="middle" x="1270.33" y="787">No. of inland bluespace visits − last four weeks</text>
<text class="ax ay" text-anchor="middle" transform="translate(1009.45 579) rotate(-90)">Predicted probability of</text>
<text class="ax ay" text-anchor="middle" transform="translate(1027.55 579.75) rotate(-90)">taking depression medication</text>
<text class="lb" transform="translate(1119.79 433.95) scale(1.1 1)">g</text>
</g>
<g id="panel-h">
<rect class="bg" x="1560" y="409.1" width="415.9" height="340.8"/>
<path class="gm" d="M1560 424.59H1975.9M1560 513.12H1975.9M1560 601.65H1975.9M1560 690.19H1975.9M1646.4 409.1V749.9M1781.4 409.1V749.9M1916.4 409.1V749.9"/>
<path class="gM" d="M1560 468.86H1975.9M1560 557.39H1975.9M1560 645.92H1975.9M1560 734.45H1975.9M1578.9 409.1V749.9M1713.9 409.1V749.9M1848.9 409.1V749.9"/>
<polygon class="rb" points="1578.9,696.71 1585.65,695.96 1592.4,695.25 1599.15,694.57 1605.9,693.93 1612.65,693.33 1619.4,692.75 1626.15,692.21 1632.9,691.69 1639.65,691.2 1646.4,690.73 1653.15,690.29 1659.9,689.86 1666.65,689.46 1673.4,689.07 1680.15,688.7 1686.9,688.35 1693.65,688.01 1700.4,687.68 1707.15,687.36 1713.9,687.04 1720.65,686.74 1727.4,686.44 1734.15,686.14 1740.9,685.84 1747.65,685.55 1754.4,685.26 1761.15,684.96 1767.9,684.66 1774.65,684.36 1781.4,684.05 1788.15,683.74 1794.9,683.41 1801.65,683.08 1808.4,682.73 1815.15,682.38 1821.9,682.01 1828.65,681.63 1835.4,681.23 1842.15,680.81 1848.9,680.38 1855.65,679.93 1862.4,679.46 1869.15,678.97 1875.9,678.46 1882.65,677.92 1889.4,677.36 1896.15,676.78 1902.9,676.17 1909.65,675.54 1916.4,674.88 1923.15,674.19 1929.9,673.47 1936.65,672.73 1943.4,671.95 1950.15,671.14 1956.9,670.3 1956.9,723.22 1950.15,722.8 1943.4,722.37 1936.65,721.94 1929.9,721.5 1923.15,721.05 1916.4,720.61 1909.65,720.17 1902.9,719.72 1896.15,719.29 1889.4,718.85 1882.65,718.43 1875.9,718.01 1869.15,717.6 1862.4,717.21 1855.65,716.82 1848.9,716.45 1842.15,716.09 1835.4,715.75 1828.65,715.42 1821.9,715.11 1815.15,714.82 1808.4,714.54 1801.65,714.29 1794.9,714.05 1788.15,713.83 1781.4,713.64 1774.65,713.46 1767.9,713.31 1761.15,713.17 1754.4,713.06 1747.65,712.97 1740.9,712.9 1734.15,712.85 1727.4,712.82 1720.65,712.81 1713.9,712.82 1707.15,712.86 1700.4,712.91 1693.65,712.98 1686.9,713.07 1680.15,713.17 1673.4,713.3 1666.65,713.44 1659.9,713.59 1653.15,713.76 1646.4,713.94 1639.65,714.14 1632.9,714.34 1626.15,714.56 1619.4,714.78 1612.65,715.01 1605.9,715.25 1599.15,715.49 1592.4,715.73 1585.65,715.97 1578.9,716.22"/>
<polyline class="ln" points="1578.9,708 1585.65,707.6 1592.4,707.22 1599.15,706.84 1605.9,706.48 1612.65,706.12 1619.4,705.77 1626.15,705.43 1632.9,705.11 1639.65,704.8 1646.4,704.5 1653.15,704.21 1659.9,703.93 1666.65,703.67 1673.4,703.43 1680.15,703.19 1686.9,702.97 1693.65,702.77 1700.4,702.58 1707.15,702.41 1713.9,702.25 1720.65,702.11 1727.4,701.98 1734.15,701.87 1740.9,701.78 1747.65,701.7 1754.4,701.64 1761.15,701.6 1767.9,701.57 1774.65,701.56 1781.4,701.57 1788.15,701.59 1794.9,701.63 1801.65,701.69 1808.4,701.77 1815.15,701.86 1821.9,701.96 1828.65,702.09 1835.4,702.23 1842.15,702.38 1848.9,702.55 1855.65,702.74 1862.4,702.94 1869.15,703.16 1875.9,703.4 1882.65,703.64 1889.4,703.91 1896.15,704.18 1902.9,704.47 1909.65,704.78 1916.4,705.09 1923.15,705.42 1929.9,705.76 1936.65,706.12 1943.4,706.48 1950.15,706.85 1956.9,707.24"/>
<polygon class="ro" points="1578.9,696.71 1585.65,695.96 1592.4,695.25 1599.15,694.57 1605.9,693.93 1612.65,693.33 1619.4,692.75 1626.15,692.21 1632.9,691.69 1639.65,691.2 1646.4,690.73 1653.15,690.29 1659.9,689.86 1666.65,689.46 1673.4,689.07 1680.15,688.7 1686.9,688.35 1693.65,688.01 1700.4,687.68 1707.15,687.36 1713.9,687.04 1720.65,686.74 1727.4,686.44 1734.15,686.14 1740.9,685.84 1747.65,685.55 1754.4,685.26 1761.15,684.96 1767.9,684.66 1774.65,684.36 1781.4,684.05 1788.15,683.74 1794.9,683.41 1801.65,683.08 1808.4,682.73 1815.15,682.38 1821.9,682.01 1828.65,681.63 1835.4,681.23 1842.15,680.81 1848.9,680.38 1855.65,679.93 1862.4,679.46 1869.15,678.97 1875.9,678.46 1882.65,677.92 1889.4,677.36 1896.15,676.78 1902.9,676.17 1909.65,675.54 1916.4,674.88 1923.15,674.19 1929.9,673.47 1936.65,672.73 1943.4,671.95 1950.15,671.14 1956.9,670.3 1956.9,723.22 1950.15,722.8 1943.4,722.37 1936.65,721.94 1929.9,721.5 1923.15,721.05 1916.4,720.61 1909.65,720.17 1902.9,719.72 1896.15,719.29 1889.4,718.85 1882.65,718.43 1875.9,718.01 1869.15,717.6 1862.4,717.21 1855.65,716.82 1848.9,716.45 1842.15,716.09 1835.4,715.75 1828.65,715.42 1821.9,715.11 1815.15,714.82 1808.4,714.54 1801.65,714.29 1794.9,714.05 1788.15,713.83 1781.4,713.64 1774.65,713.46 1767.9,713.31 1761.15,713.17 1754.4,713.06 1747.65,712.97 1740.9,712.9 1734.15,712.85 1727.4,712.82 1720.65,712.81 1713.9,712.82 1707.15,712.86 1700.4,712.91 1693.65,712.98 1686.9,713.07 1680.15,713.17 1673.4,713.3 1666.65,713.44 1659.9,713.59 1653.15,713.76 1646.4,713.94 1639.65,714.14 1632.9,714.34 1626.15,714.56 1619.4,714.78 1612.65,715.01 1605.9,715.25 1599.15,715.49 1592.4,715.73 1585.65,715.97 1578.9,716.22"/>
<path class="t" d="M1555.8 468.86H1560M1555.8 557.39H1560M1555.8 645.92H1560M1555.8 734.45H1560M1578.9 749.9V754.1M1713.9 749.9V754.1M1848.9 749.9V754.1"/>
<text class="tk" text-anchor="end" transform="translate(1552.3 474) scale(1.045 1.1)">0.6</text>
<text class="tk" text-anchor="end" transform="translate(1552.3 562) scale(1.045 1.1)">0.4</text>
<text class="tk" text-anchor="end" transform="translate(1552.3 651) scale(1.045 1.1)">0.2</text>
<text class="tk" text-anchor="end" transform="translate(1552.3 739) scale(1.045 1.1)">0.0</text>
<text class="tk" text-anchor="middle" transform="translate(1578.9 767) scale(1 1.1)">0</text>
<text class="tk" text-anchor="middle" transform="translate(1713.9 767) scale(1 1.1)">20</text>
<text class="tk" text-anchor="middle" transform="translate(1848.9 767) scale(1 1.1)">40</text>
<text class="ax axx" text-anchor="middle" x="1767.75" y="787">No. of inland bluespace visits − last four weeks</text>
<text class="ax ay" text-anchor="middle" transform="translate(1506.9 579) rotate(-90)">Predicted probability of</text>
<text class="ax ay" text-anchor="middle" transform="translate(1525 579.75) rotate(-90)">taking anxiety medication</text>
<text class="lb" transform="translate(1617.29 433.95) scale(1.1 1)">h</text>
</g>
<g id="panel-i">
<rect class="bg" x="63.4" y="807.1" width="419.7" height="340.8"/>
<path class="gm" d="M63.4 822.59H483.1M63.4 911.12H483.1M63.4 999.65H483.1M63.4 1088.19H483.1M150.77 807.1V1147.9M287 807.1V1147.9M423.23 807.1V1147.9"/>
<path class="gM" d="M63.4 866.86H483.1M63.4 955.39H483.1M63.4 1043.92H483.1M63.4 1132.45H483.1M82.65 807.1V1147.9M218.88 807.1V1147.9M355.11 807.1V1147.9"/>
<polygon class="rb" points="82.65,1043.49 89.46,1041.66 96.27,1039.89 103.08,1038.17 109.9,1036.5 116.71,1034.88 123.52,1033.3 130.33,1031.76 137.14,1030.27 143.95,1028.81 150.77,1027.39 157.58,1026 164.39,1024.64 171.2,1023.32 178.01,1022.02 184.82,1020.75 191.64,1019.5 198.45,1018.27 205.26,1017.06 212.07,1015.87 218.88,1014.7 225.69,1013.54 232.51,1012.4 239.32,1011.27 246.13,1010.14 252.94,1009.03 259.75,1007.92 266.56,1006.81 273.38,1005.71 280.19,1004.61 287,1003.52 293.81,1002.42 300.62,1001.32 307.43,1000.21 314.24,999.1 321.06,997.99 327.87,996.87 334.68,995.74 341.49,994.6 348.3,993.46 355.11,992.3 361.93,991.13 368.74,989.94 375.55,988.75 382.36,987.53 389.17,986.31 395.98,985.06 402.8,983.8 409.61,982.52 416.42,981.23 423.23,979.91 430.04,978.58 436.85,977.22 443.67,975.85 450.48,974.45 457.29,973.03 464.1,971.59 464.1,1048.2 457.29,1047.05 450.48,1046.01 443.67,1045.07 436.85,1044.23 430.04,1043.49 423.23,1042.85 416.42,1042.29 409.61,1041.83 402.8,1041.45 395.98,1041.15 389.17,1040.94 382.36,1040.8 375.55,1040.74 368.74,1040.76 361.93,1040.85 355.11,1041 348.3,1041.22 341.49,1041.51 334.68,1041.86 327.87,1042.26 321.06,1042.73 314.24,1043.25 307.43,1043.83 300.62,1044.45 293.81,1045.13 287,1045.85 280.19,1046.61 273.38,1047.42 266.56,1048.28 259.75,1049.17 252.94,1050.1 246.13,1051.06 239.32,1052.06 232.51,1053.1 225.69,1054.16 218.88,1055.25 212.07,1056.37 205.26,1057.52 198.45,1058.69 191.64,1059.89 184.82,1061.11 178.01,1062.35 171.2,1063.6 164.39,1064.88 157.58,1066.17 150.77,1067.48 143.95,1068.8 137.14,1070.14 130.33,1071.49 123.52,1072.84 116.71,1074.21 109.9,1075.59 103.08,1076.98 96.27,1078.37 89.46,1079.77 82.65,1081.18"/>
<polyline class="ln" points="82.65,1062.04 89.46,1060.57 96.27,1059.11 103.08,1057.66 109.9,1056.22 116.71,1054.8 123.52,1053.38 130.33,1051.98 137.14,1050.59 143.95,1049.21 150.77,1047.85 157.58,1046.5 164.39,1045.17 171.2,1043.86 178.01,1042.56 184.82,1041.28 191.64,1040.02 198.45,1038.78 205.26,1037.56 212.07,1036.36 218.88,1035.18 225.69,1034.02 232.51,1032.88 239.32,1031.76 246.13,1030.67 252.94,1029.6 259.75,1028.56 266.56,1027.53 273.38,1026.54 280.19,1025.57 287,1024.62 293.81,1023.7 300.62,1022.8 307.43,1021.94 314.24,1021.1 321.06,1020.28 327.87,1019.5 334.68,1018.74 341.49,1018.01 348.3,1017.31 355.11,1016.63 361.93,1015.99 368.74,1015.37 375.55,1014.79 382.36,1014.23 389.17,1013.71 395.98,1013.21 402.8,1012.75 409.61,1012.31 416.42,1011.91 423.23,1011.54 430.04,1011.19 436.85,1010.88 443.67,1010.6 450.48,1010.35 457.29,1010.13 464.1,1009.95"/>
<polygon class="ro" points="82.65,1043.49 89.46,1041.66 96.27,1039.89 103.08,1038.17 109.9,1036.5 116.71,1034.88 123.52,1033.3 130.33,1031.76 137.14,1030.27 143.95,1028.81 150.77,1027.39 157.58,1026 164.39,1024.64 171.2,1023.32 178.01,1022.02 184.82,1020.75 191.64,1019.5 198.45,1018.27 205.26,1017.06 212.07,1015.87 218.88,1014.7 225.69,1013.54 232.51,1012.4 239.32,1011.27 246.13,1010.14 252.94,1009.03 259.75,1007.92 266.56,1006.81 273.38,1005.71 280.19,1004.61 287,1003.52 293.81,1002.42 300.62,1001.32 307.43,1000.21 314.24,999.1 321.06,997.99 327.87,996.87 334.68,995.74 341.49,994.6 348.3,993.46 355.11,992.3 361.93,991.13 368.74,989.94 375.55,988.75 382.36,987.53 389.17,986.31 395.98,985.06 402.8,983.8 409.61,982.52 416.42,981.23 423.23,979.91 430.04,978.58 436.85,977.22 443.67,975.85 450.48,974.45 457.29,973.03 464.1,971.59 464.1,1048.2 457.29,1047.05 450.48,1046.01 443.67,1045.07 436.85,1044.23 430.04,1043.49 423.23,1042.85 416.42,1042.29 409.61,1041.83 402.8,1041.45 395.98,1041.15 389.17,1040.94 382.36,1040.8 375.55,1040.74 368.74,1040.76 361.93,1040.85 355.11,1041 348.3,1041.22 341.49,1041.51 334.68,1041.86 327.87,1042.26 321.06,1042.73 314.24,1043.25 307.43,1043.83 300.62,1044.45 293.81,1045.13 287,1045.85 280.19,1046.61 273.38,1047.42 266.56,1048.28 259.75,1049.17 252.94,1050.1 246.13,1051.06 239.32,1052.06 232.51,1053.1 225.69,1054.16 218.88,1055.25 212.07,1056.37 205.26,1057.52 198.45,1058.69 191.64,1059.89 184.82,1061.11 178.01,1062.35 171.2,1063.6 164.39,1064.88 157.58,1066.17 150.77,1067.48 143.95,1068.8 137.14,1070.14 130.33,1071.49 123.52,1072.84 116.71,1074.21 109.9,1075.59 103.08,1076.98 96.27,1078.37 89.46,1079.77 82.65,1081.18"/>
<path class="t" d="M59.2 866.86H63.4M59.2 955.39H63.4M59.2 1043.92H63.4M59.2 1132.45H63.4M82.65 1147.9V1152.1M218.88 1147.9V1152.1M355.11 1147.9V1152.1"/>
<text class="tk" text-anchor="end" transform="translate(55.7 872) scale(1 1.1)">70</text>
<text class="tk" text-anchor="end" transform="translate(55.7 960) scale(1 1.1)">60</text>
<text class="tk" text-anchor="end" transform="translate(55.7 1049) scale(1 1.1)">50</text>
<text class="tk" text-anchor="end" transform="translate(55.7 1137) scale(1 1.1)">40</text>
<text class="tk" text-anchor="middle" transform="translate(82.65 1165) scale(1 1.1)">0</text>
<text class="tk" text-anchor="middle" transform="translate(218.88 1165) scale(1 1.1)">20</text>
<text class="tk" text-anchor="middle" transform="translate(355.11 1165) scale(1 1.1)">40</text>
<text class="ax axx" text-anchor="middle" x="273.05" y="1185">No. of coastal bluespace visits − last four weeks</text>
<text class="ax ay" text-anchor="middle" transform="translate(14 977.7) rotate(-90)">Predicted WHO−5 score</text>
<text class="ax ay" text-anchor="middle" transform="translate(33 977.7) rotate(-90)">(0−100)</text>
<text class="lb" transform="translate(121.52 831.95) scale(1.1 1)">i</text>
</g>
<g id="panel-j">
<rect class="bg" x="565" y="807.1" width="416" height="340.8"/>
<path class="gm" d="M565 822.59H981M565 911.12H981M565 999.65H981M565 1088.19H981M651.37 807.1V1147.9M786.4 807.1V1147.9M921.44 807.1V1147.9"/>
<path class="gM" d="M565 866.86H981M565 955.39H981M565 1043.92H981M565 1132.45H981M583.85 807.1V1147.9M718.89 807.1V1147.9M853.92 807.1V1147.9"/>
<polygon class="rb" points="583.85,1030.91 590.6,1032.83 597.35,1034.61 604.11,1036.27 610.86,1037.82 617.61,1039.26 624.36,1040.61 631.11,1041.86 637.86,1043.02 644.62,1044.11 651.37,1045.12 658.12,1046.05 664.87,1046.91 671.62,1047.7 678.38,1048.42 685.13,1049.07 691.88,1049.65 698.63,1050.15 705.38,1050.59 712.13,1050.94 718.89,1051.22 725.64,1051.41 732.39,1051.52 739.14,1051.53 745.89,1051.45 752.64,1051.26 759.4,1050.96 766.15,1050.55 772.9,1050.01 779.65,1049.34 786.4,1048.54 793.16,1047.58 799.91,1046.47 806.66,1045.2 813.41,1043.75 820.16,1042.12 826.91,1040.3 833.67,1038.27 840.42,1036.03 847.17,1033.57 853.92,1030.87 860.67,1027.93 867.43,1024.74 874.18,1021.28 880.93,1017.54 887.68,1013.52 894.43,1009.19 901.18,1004.56 907.94,999.61 914.69,994.33 921.44,988.71 928.19,982.73 934.94,976.4 941.69,969.69 948.45,962.59 955.2,955.1 961.95,947.21 961.95,1099.94 955.2,1099.65 948.45,1099.36 941.69,1099.07 934.94,1098.78 928.19,1098.5 921.44,1098.23 914.69,1097.96 907.94,1097.71 901.18,1097.47 894.43,1097.24 887.68,1097.02 880.93,1096.82 874.18,1096.63 867.43,1096.45 860.67,1096.28 853.92,1096.12 847.17,1095.97 840.42,1095.84 833.67,1095.7 826.91,1095.58 820.16,1095.46 813.41,1095.34 806.66,1095.22 799.91,1095.1 793.16,1094.98 786.4,1094.85 779.65,1094.71 772.9,1094.56 766.15,1094.4 759.4,1094.22 752.64,1094.03 745.89,1093.81 739.14,1093.57 732.39,1093.3 725.64,1093 718.89,1092.67 712.13,1092.3 705.38,1091.89 698.63,1091.45 691.88,1090.96 685.13,1090.42 678.38,1089.83 671.62,1089.19 664.87,1088.5 658.12,1087.75 651.37,1086.94 644.62,1086.06 637.86,1085.13 631.11,1084.12 624.36,1083.05 617.61,1081.91 610.86,1080.7 604.11,1079.42 597.35,1078.06 590.6,1076.62 583.85,1075.11"/>
<polyline class="ln" points="583.85,1055.81 590.6,1057.6 597.35,1059.27 604.11,1060.84 610.86,1062.3 617.61,1063.66 624.36,1064.93 631.11,1066.11 637.86,1067.21 644.62,1068.22 651.37,1069.17 658.12,1070.04 664.87,1070.84 671.62,1071.58 678.38,1072.25 685.13,1072.87 691.88,1073.42 698.63,1073.92 705.38,1074.36 712.13,1074.76 718.89,1075.09 725.64,1075.38 732.39,1075.62 739.14,1075.8 745.89,1075.94 752.64,1076.02 759.4,1076.06 766.15,1076.04 772.9,1075.98 779.65,1075.86 786.4,1075.69 793.16,1075.46 799.91,1075.19 806.66,1074.85 813.41,1074.46 820.16,1074.01 826.91,1073.49 833.67,1072.92 840.42,1072.28 847.17,1071.58 853.92,1070.81 860.67,1069.97 867.43,1069.06 874.18,1068.07 880.93,1067.01 887.68,1065.87 894.43,1064.65 901.18,1063.35 907.94,1061.97 914.69,1060.5 921.44,1058.94 928.19,1057.29 934.94,1055.54 941.69,1053.71 948.45,1051.77 955.2,1049.74 961.95,1047.61"/>
<polygon class="ro" points="583.85,1030.91 590.6,1032.83 597.35,1034.61 604.11,1036.27 610.86,1037.82 617.61,1039.26 624.36,1040.61 631.11,1041.86 637.86,1043.02 644.62,1044.11 651.37,1045.12 658.12,1046.05 664.87,1046.91 671.62,1047.7 678.38,1048.42 685.13,1049.07 691.88,1049.65 698.63,1050.15 705.38,1050.59 712.13,1050.94 718.89,1051.22 725.64,1051.41 732.39,1051.52 739.14,1051.53 745.89,1051.45 752.64,1051.26 759.4,1050.96 766.15,1050.55 772.9,1050.01 779.65,1049.34 786.4,1048.54 793.16,1047.58 799.91,1046.47 806.66,1045.2 813.41,1043.75 820.16,1042.12 826.91,1040.3 833.67,1038.27 840.42,1036.03 847.17,1033.57 853.92,1030.87 860.67,1027.93 867.43,1024.74 874.18,1021.28 880.93,1017.54 887.68,1013.52 894.43,1009.19 901.18,1004.56 907.94,999.61 914.69,994.33 921.44,988.71 928.19,982.73 934.94,976.4 941.69,969.69 948.45,962.59 955.2,955.1 961.95,947.21 961.95,1099.94 955.2,1099.65 948.45,1099.36 941.69,1099.07 934.94,1098.78 928.19,1098.5 921.44,1098.23 914.69,1097.96 907.94,1097.71 901.18,1097.47 894.43,1097.24 887.68,1097.02 880.93,1096.82 874.18,1096.63 867.43,1096.45 860.67,1096.28 853.92,1096.12 847.17,1095.97 840.42,1095.84 833.67,1095.7 826.91,1095.58 820.16,1095.46 813.41,1095.34 806.66,1095.22 799.91,1095.1 793.16,1094.98 786.4,1094.85 779.65,1094.71 772.9,1094.56 766.15,1094.4 759.4,1094.22 752.64,1094.03 745.89,1093.81 739.14,1093.57 732.39,1093.3 725.64,1093 718.89,1092.67 712.13,1092.3 705.38,1091.89 698.63,1091.45 691.88,1090.96 685.13,1090.42 678.38,1089.83 671.62,1089.19 664.87,1088.5 658.12,1087.75 651.37,1086.94 644.62,1086.06 637.86,1085.13 631.11,1084.12 624.36,1083.05 617.61,1081.91 610.86,1080.7 604.11,1079.42 597.35,1078.06 590.6,1076.62 583.85,1075.11"/>
<path class="t" d="M560.8 866.86H565M560.8 955.39H565M560.8 1043.92H565M560.8 1132.45H565M583.85 1147.9V1152.1M718.89 1147.9V1152.1M853.92 1147.9V1152.1"/>
<text class="tk" text-anchor="end" transform="translate(557.3 872) scale(1.045 1.1)">0.6</text>
<text class="tk" text-anchor="end" transform="translate(557.3 960) scale(1.045 1.1)">0.4</text>
<text class="tk" text-anchor="end" transform="translate(557.3 1049) scale(1.045 1.1)">0.2</text>
<text class="tk" text-anchor="end" transform="translate(557.3 1137) scale(1.045 1.1)">0.0</text>
<text class="tk" text-anchor="middle" transform="translate(583.85 1165) scale(1 1.1)">0</text>
<text class="tk" text-anchor="middle" transform="translate(718.89 1165) scale(1 1.1)">20</text>
<text class="tk" text-anchor="middle" transform="translate(853.92 1165) scale(1 1.1)">40</text>
<text class="ax axx" text-anchor="middle" x="772.8" y="1185">No. of coastal bluespace visits − last four weeks</text>
<text class="ax ay" text-anchor="middle" transform="translate(511.9 977) rotate(-90)">Predicted probability of</text>
<text class="ax ay" text-anchor="middle" transform="translate(530 977.75) rotate(-90)">depression (WHO−5 score &lt;28)</text>
<text class="lb" transform="translate(619.02 831.95) scale(1.1 1)">j</text>
</g>
<g id="panel-k">
<rect class="bg" x="1062.55" y="807.1" width="415.95" height="340.8"/>
<path class="gm" d="M1062.55 822.59H1478.5M1062.55 911.12H1478.5M1062.55 999.65H1478.5M1062.55 1088.19H1478.5M1148.86 807.1V1147.9M1283.79 807.1V1147.9M1418.72 807.1V1147.9"/>
<path class="gM" d="M1062.55 866.86H1478.5M1062.55 955.39H1478.5M1062.55 1043.92H1478.5M1062.55 1132.45H1478.5M1081.4 807.1V1147.9M1216.33 807.1V1147.9M1351.26 807.1V1147.9"/>
<polygon class="rb" points="1081.4,1095.72 1088.15,1095.79 1094.89,1095.86 1101.64,1095.94 1108.39,1096.03 1115.13,1096.12 1121.88,1096.22 1128.62,1096.33 1135.37,1096.44 1142.12,1096.56 1148.86,1096.68 1155.61,1096.81 1162.36,1096.94 1169.1,1097.08 1175.85,1097.21 1182.6,1097.35 1189.34,1097.49 1196.09,1097.62 1202.84,1097.76 1209.58,1097.89 1216.33,1098.02 1223.07,1098.15 1229.82,1098.27 1236.57,1098.38 1243.31,1098.49 1250.06,1098.59 1256.81,1098.67 1263.55,1098.75 1270.3,1098.81 1277.05,1098.86 1283.79,1098.89 1290.54,1098.9 1297.29,1098.9 1304.03,1098.88 1310.78,1098.83 1317.53,1098.76 1324.27,1098.66 1331.02,1098.54 1337.76,1098.39 1344.51,1098.21 1351.26,1097.99 1358,1097.74 1364.75,1097.45 1371.5,1097.13 1378.24,1096.76 1384.99,1096.36 1391.74,1095.9 1398.48,1095.4 1405.23,1094.85 1411.97,1094.25 1418.72,1093.59 1425.47,1092.88 1432.21,1092.11 1438.96,1091.28 1445.71,1090.39 1452.45,1089.42 1459.2,1088.39 1459.2,1126.11 1452.45,1125.79 1445.71,1125.48 1438.96,1125.17 1432.21,1124.87 1425.47,1124.58 1418.72,1124.29 1411.97,1124 1405.23,1123.72 1398.48,1123.45 1391.74,1123.18 1384.99,1122.91 1378.24,1122.66 1371.5,1122.41 1364.75,1122.16 1358,1121.92 1351.26,1121.69 1344.51,1121.46 1337.76,1121.24 1331.02,1121.02 1324.27,1120.81 1317.53,1120.61 1310.78,1120.41 1304.03,1120.21 1297.29,1120.02 1290.54,1119.84 1283.79,1119.66 1277.05,1119.49 1270.3,1119.32 1263.55,1119.16 1256.81,1119 1250.06,1118.84 1243.31,1118.69 1236.57,1118.54 1229.82,1118.4 1223.07,1118.26 1216.33,1118.12 1209.58,1117.99 1202.84,1117.85 1196.09,1117.72 1189.34,1117.59 1182.6,1117.47 1175.85,1117.34 1169.1,1117.22 1162.36,1117.09 1155.61,1116.97 1148.86,1116.84 1142.12,1116.72 1135.37,1116.59 1128.62,1116.47 1121.88,1116.34 1115.13,1116.2 1108.39,1116.07 1101.64,1115.93 1094.89,1115.79 1088.15,1115.64 1081.4,1115.49"/>
<polyline class="ln" points="1081.4,1107.41 1088.15,1107.54 1094.89,1107.68 1101.64,1107.8 1108.39,1107.93 1115.13,1108.05 1121.88,1108.18 1128.62,1108.3 1135.37,1108.42 1142.12,1108.54 1148.86,1108.66 1155.61,1108.78 1162.36,1108.9 1169.1,1109.03 1175.85,1109.16 1182.6,1109.28 1189.34,1109.41 1196.09,1109.54 1202.84,1109.68 1209.58,1109.82 1216.33,1109.96 1223.07,1110.1 1229.82,1110.24 1236.57,1110.39 1243.31,1110.54 1250.06,1110.69 1256.81,1110.85 1263.55,1111 1270.3,1111.16 1277.05,1111.33 1283.79,1111.49 1290.54,1111.65 1297.29,1111.82 1304.03,1111.99 1310.78,1112.16 1317.53,1112.32 1324.27,1112.49 1331.02,1112.66 1337.76,1112.83 1344.51,1112.99 1351.26,1113.16 1358,1113.32 1364.75,1113.48 1371.5,1113.63 1378.24,1113.78 1384.99,1113.92 1391.74,1114.06 1398.48,1114.2 1405.23,1114.32 1411.97,1114.44 1418.72,1114.55 1425.47,1114.65 1432.21,1114.74 1438.96,1114.82 1445.71,1114.89 1452.45,1114.94 1459.2,1114.98"/>
<polygon class="ro" points="1081.4,1095.72 1088.15,1095.79 1094.89,1095.86 1101.64,1095.94 1108.39,1096.03 1115.13,1096.12 1121.88,1096.22 1128.62,1096.33 1135.37,1096.44 1142.12,1096.56 1148.86,1096.68 1155.61,1096.81 1162.36,1096.94 1169.1,1097.08 1175.85,1097.21 1182.6,1097.35 1189.34,1097.49 1196.09,1097.62 1202.84,1097.76 1209.58,1097.89 1216.33,1098.02 1223.07,1098.15 1229.82,1098.27 1236.57,1098.38 1243.31,1098.49 1250.06,1098.59 1256.81,1098.67 1263.55,1098.75 1270.3,1098.81 1277.05,1098.86 1283.79,1098.89 1290.54,1098.9 1297.29,1098.9 1304.03,1098.88 1310.78,1098.83 1317.53,1098.76 1324.27,1098.66 1331.02,1098.54 1337.76,1098.39 1344.51,1098.21 1351.26,1097.99 1358,1097.74 1364.75,1097.45 1371.5,1097.13 1378.24,1096.76 1384.99,1096.36 1391.74,1095.9 1398.48,1095.4 1405.23,1094.85 1411.97,1094.25 1418.72,1093.59 1425.47,1092.88 1432.21,1092.11 1438.96,1091.28 1445.71,1090.39 1452.45,1089.42 1459.2,1088.39 1459.2,1126.11 1452.45,1125.79 1445.71,1125.48 1438.96,1125.17 1432.21,1124.87 1425.47,1124.58 1418.72,1124.29 1411.97,1124 1405.23,1123.72 1398.48,1123.45 1391.74,1123.18 1384.99,1122.91 1378.24,1122.66 1371.5,1122.41 1364.75,1122.16 1358,1121.92 1351.26,1121.69 1344.51,1121.46 1337.76,1121.24 1331.02,1121.02 1324.27,1120.81 1317.53,1120.61 1310.78,1120.41 1304.03,1120.21 1297.29,1120.02 1290.54,1119.84 1283.79,1119.66 1277.05,1119.49 1270.3,1119.32 1263.55,1119.16 1256.81,1119 1250.06,1118.84 1243.31,1118.69 1236.57,1118.54 1229.82,1118.4 1223.07,1118.26 1216.33,1118.12 1209.58,1117.99 1202.84,1117.85 1196.09,1117.72 1189.34,1117.59 1182.6,1117.47 1175.85,1117.34 1169.1,1117.22 1162.36,1117.09 1155.61,1116.97 1148.86,1116.84 1142.12,1116.72 1135.37,1116.59 1128.62,1116.47 1121.88,1116.34 1115.13,1116.2 1108.39,1116.07 1101.64,1115.93 1094.89,1115.79 1088.15,1115.64 1081.4,1115.49"/>
<path class="t" d="M1058.35 866.86H1062.55M1058.35 955.39H1062.55M1058.35 1043.92H1062.55M1058.35 1132.45H1062.55M1081.4 1147.9V1152.1M1216.33 1147.9V1152.1M1351.26 1147.9V1152.1"/>
<text class="tk" text-anchor="end" transform="translate(1054.85 872) scale(1.045 1.1)">0.6</text>
<text class="tk" text-anchor="end" transform="translate(1054.85 960) scale(1.045 1.1)">0.4</text>
<text class="tk" text-anchor="end" transform="translate(1054.85 1049) scale(1.045 1.1)">0.2</text>
<text class="tk" text-anchor="end" transform="translate(1054.85 1137) scale(1.045 1.1)">0.0</text>
<text class="tk" text-anchor="middle" transform="translate(1081.4 1165) scale(1 1.1)">0</text>
<text class="tk" text-anchor="middle" transform="translate(1216.33 1165) scale(1 1.1)">20</text>
<text class="tk" text-anchor="middle" transform="translate(1351.26 1165) scale(1 1.1)">40</text>
<text class="ax axx" text-anchor="middle" x="1270.33" y="1185">No. of coastal bluespace visits − last four weeks</text>
<text class="ax ay" text-anchor="middle" transform="translate(1009.45 977) rotate(-90)">Predicted probability of</text>
<text class="ax ay" text-anchor="middle" transform="translate(1027.55 977.75) rotate(-90)">taking depression medication</text>
<text class="lb" transform="translate(1119.25 831.95) scale(1.1 1)">k</text>
</g>
<g id="panel-l">
<rect class="bg" x="1560" y="807.1" width="415.9" height="340.8"/>
<path class="gm" d="M1560 822.59H1975.9M1560 911.12H1975.9M1560 999.65H1975.9M1560 1088.19H1975.9M1646.4 807.1V1147.9M1781.4 807.1V1147.9M1916.4 807.1V1147.9"/>
<path class="gM" d="M1560 866.86H1975.9M1560 955.39H1975.9M1560 1043.92H1975.9M1560 1132.45H1975.9M1578.9 807.1V1147.9M1713.9 807.1V1147.9M1848.9 807.1V1147.9"/>
<polygon class="rb" points="1578.9,1095.46 1585.65,1094.88 1592.4,1094.33 1599.15,1093.8 1605.9,1093.3 1612.65,1092.82 1619.4,1092.35 1626.15,1091.91 1632.9,1091.49 1639.65,1091.07 1646.4,1090.68 1653.15,1090.29 1659.9,1089.91 1666.65,1089.54 1673.4,1089.17 1680.15,1088.81 1686.9,1088.45 1693.65,1088.08 1700.4,1087.72 1707.15,1087.35 1713.9,1086.97 1720.65,1086.59 1727.4,1086.2 1734.15,1085.79 1740.9,1085.37 1747.65,1084.93 1754.4,1084.48 1761.15,1084 1767.9,1083.5 1774.65,1082.98 1781.4,1082.43 1788.15,1081.86 1794.9,1081.25 1801.65,1080.61 1808.4,1079.93 1815.15,1079.22 1821.9,1078.47 1828.65,1077.68 1835.4,1076.85 1842.15,1075.97 1848.9,1075.04 1855.65,1074.06 1862.4,1073.03 1869.15,1071.95 1875.9,1070.81 1882.65,1069.61 1889.4,1068.35 1896.15,1067.03 1902.9,1065.65 1909.65,1064.19 1916.4,1062.67 1923.15,1061.08 1929.9,1059.41 1936.65,1057.67 1943.4,1055.84 1950.15,1053.94 1956.9,1051.95 1956.9,1114.38 1950.15,1113.95 1943.4,1113.54 1936.65,1113.16 1929.9,1112.8 1923.15,1112.48 1916.4,1112.18 1909.65,1111.91 1902.9,1111.66 1896.15,1111.43 1889.4,1111.23 1882.65,1111.05 1875.9,1110.89 1869.15,1110.75 1862.4,1110.63 1855.65,1110.53 1848.9,1110.45 1842.15,1110.39 1835.4,1110.34 1828.65,1110.31 1821.9,1110.3 1815.15,1110.3 1808.4,1110.31 1801.65,1110.33 1794.9,1110.37 1788.15,1110.42 1781.4,1110.48 1774.65,1110.55 1767.9,1110.63 1761.15,1110.72 1754.4,1110.82 1747.65,1110.93 1740.9,1111.04 1734.15,1111.16 1727.4,1111.28 1720.65,1111.41 1713.9,1111.54 1707.15,1111.68 1700.4,1111.82 1693.65,1111.96 1686.9,1112.11 1680.15,1112.25 1673.4,1112.4 1666.65,1112.55 1659.9,1112.69 1653.15,1112.83 1646.4,1112.98 1639.65,1113.12 1632.9,1113.25 1626.15,1113.39 1619.4,1113.52 1612.65,1113.64 1605.9,1113.76 1599.15,1113.88 1592.4,1113.98 1585.65,1114.08 1578.9,1114.18"/>
<polyline class="ln" points="1578.9,1106.23 1585.65,1105.93 1592.4,1105.64 1599.15,1105.36 1605.9,1105.08 1612.65,1104.82 1619.4,1104.56 1626.15,1104.3 1632.9,1104.05 1639.65,1103.8 1646.4,1103.56 1653.15,1103.32 1659.9,1103.08 1666.65,1102.85 1673.4,1102.62 1680.15,1102.39 1686.9,1102.16 1693.65,1101.93 1700.4,1101.7 1707.15,1101.47 1713.9,1101.24 1720.65,1101.02 1727.4,1100.79 1734.15,1100.56 1740.9,1100.33 1747.65,1100.1 1754.4,1099.87 1761.15,1099.63 1767.9,1099.4 1774.65,1099.16 1781.4,1098.93 1788.15,1098.69 1794.9,1098.45 1801.65,1098.21 1808.4,1097.97 1815.15,1097.73 1821.9,1097.48 1828.65,1097.24 1835.4,1097 1842.15,1096.75 1848.9,1096.51 1855.65,1096.27 1862.4,1096.02 1869.15,1095.78 1875.9,1095.54 1882.65,1095.31 1889.4,1095.07 1896.15,1094.84 1902.9,1094.61 1909.65,1094.39 1916.4,1094.17 1923.15,1093.95 1929.9,1093.74 1936.65,1093.54 1943.4,1093.34 1950.15,1093.15 1956.9,1092.97"/>
<polygon class="ro" points="1578.9,1095.46 1585.65,1094.88 1592.4,1094.33 1599.15,1093.8 1605.9,1093.3 1612.65,1092.82 1619.4,1092.35 1626.15,1091.91 1632.9,1091.49 1639.65,1091.07 1646.4,1090.68 1653.15,1090.29 1659.9,1089.91 1666.65,1089.54 1673.4,1089.17 1680.15,1088.81 1686.9,1088.45 1693.65,1088.08 1700.4,1087.72 1707.15,1087.35 1713.9,1086.97 1720.65,1086.59 1727.4,1086.2 1734.15,1085.79 1740.9,1085.37 1747.65,1084.93 1754.4,1084.48 1761.15,1084 1767.9,1083.5 1774.65,1082.98 1781.4,1082.43 1788.15,1081.86 1794.9,1081.25 1801.65,1080.61 1808.4,1079.93 1815.15,1079.22 1821.9,1078.47 1828.65,1077.68 1835.4,1076.85 1842.15,1075.97 1848.9,1075.04 1855.65,1074.06 1862.4,1073.03 1869.15,1071.95 1875.9,1070.81 1882.65,1069.61 1889.4,1068.35 1896.15,1067.03 1902.9,1065.65 1909.65,1064.19 1916.4,1062.67 1923.15,1061.08 1929.9,1059.41 1936.65,1057.67 1943.4,1055.84 1950.15,1053.94 1956.9,1051.95 1956.9,1114.38 1950.15,1113.95 1943.4,1113.54 1936.65,1113.16 1929.9,1112.8 1923.15,1112.48 1916.4,1112.18 1909.65,1111.91 1902.9,1111.66 1896.15,1111.43 1889.4,1111.23 1882.65,1111.05 1875.9,1110.89 1869.15,1110.75 1862.4,1110.63 1855.65,1110.53 1848.9,1110.45 1842.15,1110.39 1835.4,1110.34 1828.65,1110.31 1821.9,1110.3 1815.15,1110.3 1808.4,1110.31 1801.65,1110.33 1794.9,1110.37 1788.15,1110.42 1781.4,1110.48 1774.65,1110.55 1767.9,1110.63 1761.15,1110.72 1754.4,1110.82 1747.65,1110.93 1740.9,1111.04 1734.15,1111.16 1727.4,1111.28 1720.65,1111.41 1713.9,1111.54 1707.15,1111.68 1700.4,1111.82 1693.65,1111.96 1686.9,1112.11 1680.15,1112.25 1673.4,1112.4 1666.65,1112.55 1659.9,1112.69 1653.15,1112.83 1646.4,1112.98 1639.65,1113.12 1632.9,1113.25 1626.15,1113.39 1619.4,1113.52 1612.65,1113.64 1605.9,1113.76 1599.15,1113.88 1592.4,1113.98 1585.65,1114.08 1578.9,1114.18"/>
<path class="t" d="M1555.8 866.86H1560M1555.8 955.39H1560M1555.8 1043.92H1560M1555.8 1132.45H1560M1578.9 1147.9V1152.1M1713.9 1147.9V1152.1M1848.9 1147.9V1152.1"/>
<text class="tk" text-anchor="end" transform="translate(1552.3 872) scale(1.045 1.1)">0.6</text>
<text class="tk" text-anchor="end" transform="translate(1552.3 960) scale(1.045 1.1)">0.4</text>
<text class="tk" text-anchor="end" transform="translate(1552.3 1049) scale(1.045 1.1)">0.2</text>
<text class="tk" text-anchor="end" transform="translate(1552.3 1137) scale(1.045 1.1)">0.0</text>
<text class="tk" text-anchor="middle" transform="translate(1578.9 1165) scale(1 1.1)">0</text>
<text class="tk" text-anchor="middle" transform="translate(1713.9 1165) scale(1 1.1)">20</text>
<text class="tk" text-anchor="middle" transform="translate(1848.9 1165) scale(1 1.1)">40</text>
<text class="ax axx" text-anchor="middle" x="1767.75" y="1185">No. of coastal bluespace visits − last four weeks</text>
<text class="ax ay" text-anchor="middle" transform="translate(1506.9 977) rotate(-90)">Predicted probability of</text>
<text class="ax ay" text-anchor="middle" transform="translate(1525 977.75) rotate(-90)">taking anxiety medication</text>
<text class="lb" transform="translate(1614.02 831.95) scale(1.1 1)">l</text>
</g>
<g id="panel-m">
<rect class="bg" x="63.4" y="1205.1" width="419.7" height="340.75"/>
<path class="gm" d="M63.4 1220.59H483.1M63.4 1309.12H483.1M63.4 1397.65H483.1M63.4 1486.19H483.1M114.44 1205.1V1545.85M178.01 1205.1V1545.85M241.59 1205.1V1545.85M305.16 1205.1V1545.85M368.74 1205.1V1545.85M432.31 1205.1V1545.85"/>
<path class="gM" d="M63.4 1264.86H483.1M63.4 1353.39H483.1M63.4 1441.92H483.1M63.4 1530.45H483.1M82.65 1205.1V1545.85M146.23 1205.1V1545.85M209.8 1205.1V1545.85M273.38 1205.1V1545.85M336.95 1205.1V1545.85M400.53 1205.1V1545.85M464.1 1205.1V1545.85"/>
<polygon class="rb" points="82.65,1421.81 89.46,1419.37 96.27,1416.96 103.08,1414.59 109.9,1412.26 116.71,1409.96 123.52,1407.69 130.33,1405.46 137.14,1403.26 143.95,1401.09 150.77,1398.96 157.58,1396.86 164.39,1394.79 171.2,1392.76 178.01,1390.75 184.82,1388.78 191.64,1386.84 198.45,1384.94 205.26,1383.06 212.07,1381.21 218.88,1379.4 225.69,1377.61 232.51,1375.86 239.32,1374.13 246.13,1372.44 252.94,1370.77 259.75,1369.13 266.56,1367.52 273.38,1365.94 280.19,1364.39 287,1362.87 293.81,1361.37 300.62,1359.9 307.43,1358.46 314.24,1357.04 321.06,1355.65 327.87,1354.29 334.68,1352.95 341.49,1351.64 348.3,1350.35 355.11,1349.09 361.93,1347.86 368.74,1346.64 375.55,1345.46 382.36,1344.29 389.17,1343.16 395.98,1342.04 402.8,1340.95 409.61,1339.88 416.42,1338.83 423.23,1337.81 430.04,1336.81 436.85,1335.83 443.67,1334.87 450.48,1333.94 457.29,1333.02 464.1,1332.13 464.1,1381.98 457.29,1383.25 450.48,1384.52 443.67,1385.8 436.85,1387.08 430.04,1388.36 423.23,1389.64 416.42,1390.93 409.61,1392.23 402.8,1393.52 395.98,1394.83 389.17,1396.13 382.36,1397.44 375.55,1398.76 368.74,1400.08 361.93,1401.4 355.11,1402.73 348.3,1404.07 341.49,1405.41 334.68,1406.76 327.87,1408.11 321.06,1409.47 314.24,1410.84 307.43,1412.21 300.62,1413.59 293.81,1414.97 287,1416.37 280.19,1417.77 273.38,1419.18 266.56,1420.59 259.75,1422.02 252.94,1423.45 246.13,1424.89 239.32,1426.34 232.51,1427.79 225.69,1429.26 218.88,1430.73 212.07,1432.22 205.26,1433.71 198.45,1435.21 191.64,1436.73 184.82,1438.25 178.01,1439.78 171.2,1441.32 164.39,1442.88 157.58,1444.44 150.77,1446.02 143.95,1447.6 137.14,1449.2 130.33,1450.81 123.52,1452.43 116.71,1454.06 109.9,1455.7 103.08,1457.36 96.27,1459.02 89.46,1460.7 82.65,1462.4"/>
<polyline class="ln" style="stroke-width:2.2" points="82.65,1442.19 89.46,1440.11 96.27,1438.05 103.08,1436.01 109.9,1434 116.71,1432.01 123.52,1430.04 130.33,1428.1 137.14,1426.18 143.95,1424.28 150.77,1422.41 157.58,1420.55 164.39,1418.72 171.2,1416.91 178.01,1415.13 184.82,1413.36 191.64,1411.62 198.45,1409.89 205.26,1408.19 212.07,1406.51 218.88,1404.85 225.69,1403.2 232.51,1401.58 239.32,1399.98 246.13,1398.4 252.94,1396.83 259.75,1395.29 266.56,1393.76 273.38,1392.25 280.19,1390.76 287,1389.29 293.81,1387.84 300.62,1386.4 307.43,1384.98 314.24,1383.58 321.06,1382.19 327.87,1380.83 334.68,1379.47 341.49,1378.14 348.3,1376.82 355.11,1375.51 361.93,1374.22 368.74,1372.95 375.55,1371.69 382.36,1370.45 389.17,1369.22 395.98,1368.01 402.8,1366.81 409.61,1365.62 416.42,1364.45 423.23,1363.29 430.04,1362.14 436.85,1361.01 443.67,1359.89 450.48,1358.78 457.29,1357.69 464.1,1356.6"/>
<polygon class="ro" points="82.65,1421.81 89.46,1419.37 96.27,1416.96 103.08,1414.59 109.9,1412.26 116.71,1409.96 123.52,1407.69 130.33,1405.46 137.14,1403.26 143.95,1401.09 150.77,1398.96 157.58,1396.86 164.39,1394.79 171.2,1392.76 178.01,1390.75 184.82,1388.78 191.64,1386.84 198.45,1384.94 205.26,1383.06 212.07,1381.21 218.88,1379.4 225.69,1377.61 232.51,1375.86 239.32,1374.13 246.13,1372.44 252.94,1370.77 259.75,1369.13 266.56,1367.52 273.38,1365.94 280.19,1364.39 287,1362.87 293.81,1361.37 300.62,1359.9 307.43,1358.46 314.24,1357.04 321.06,1355.65 327.87,1354.29 334.68,1352.95 341.49,1351.64 348.3,1350.35 355.11,1349.09 361.93,1347.86 368.74,1346.64 375.55,1345.46 382.36,1344.29 389.17,1343.16 395.98,1342.04 402.8,1340.95 409.61,1339.88 416.42,1338.83 423.23,1337.81 430.04,1336.81 436.85,1335.83 443.67,1334.87 450.48,1333.94 457.29,1333.02 464.1,1332.13 464.1,1381.98 457.29,1383.25 450.48,1384.52 443.67,1385.8 436.85,1387.08 430.04,1388.36 423.23,1389.64 416.42,1390.93 409.61,1392.23 402.8,1393.52 395.98,1394.83 389.17,1396.13 382.36,1397.44 375.55,1398.76 368.74,1400.08 361.93,1401.4 355.11,1402.73 348.3,1404.07 341.49,1405.41 334.68,1406.76 327.87,1408.11 321.06,1409.47 314.24,1410.84 307.43,1412.21 300.62,1413.59 293.81,1414.97 287,1416.37 280.19,1417.77 273.38,1419.18 266.56,1420.59 259.75,1422.02 252.94,1423.45 246.13,1424.89 239.32,1426.34 232.51,1427.79 225.69,1429.26 218.88,1430.73 212.07,1432.22 205.26,1433.71 198.45,1435.21 191.64,1436.73 184.82,1438.25 178.01,1439.78 171.2,1441.32 164.39,1442.88 157.58,1444.44 150.77,1446.02 143.95,1447.6 137.14,1449.2 130.33,1450.81 123.52,1452.43 116.71,1454.06 109.9,1455.7 103.08,1457.36 96.27,1459.02 89.46,1460.7 82.65,1462.4"/>
<path class="t" d="M59.2 1264.86H63.4M59.2 1353.39H63.4M59.2 1441.92H63.4M59.2 1530.45H63.4M82.65 1545.85V1550.05M146.23 1545.85V1550.05M209.8 1545.85V1550.05M273.38 1545.85V1550.05M336.95 1545.85V1550.05M400.53 1545.85V1550.05M464.1 1545.85V1550.05"/>
<text class="tk" text-anchor="end" transform="translate(55.7 1270) scale(1 1.1)">70</text>
<text class="tk" text-anchor="end" transform="translate(55.7 1358) scale(1 1.1)">60</text>
<text class="tk" text-anchor="end" transform="translate(55.7 1447) scale(1 1.1)">50</text>
<text class="tk" text-anchor="end" transform="translate(55.7 1535) scale(1 1.1)">40</text>
<text class="tk" text-anchor="middle" transform="translate(82.65 1563) scale(1 1.1)">1</text>
<text class="tk" text-anchor="middle" transform="translate(146.23 1563) scale(1 1.1)">2</text>
<text class="tk" text-anchor="middle" transform="translate(209.8 1563) scale(1 1.1)">3</text>
<text class="tk" text-anchor="middle" transform="translate(273.38 1563) scale(1 1.1)">4</text>
<text class="tk" text-anchor="middle" transform="translate(336.95 1563) scale(1 1.1)">5</text>
<text class="tk" text-anchor="middle" transform="translate(400.53 1563) scale(1 1.1)">6</text>
<text class="tk" text-anchor="middle" transform="translate(464.1 1563) scale(1 1.1)">7</text>
<text class="ax axx" text-anchor="middle" x="273.05" y="1583">Nature connectedness (1−7)</text>
<text class="ax ay" text-anchor="middle" transform="translate(14 1375.67) rotate(-90)">Predicted WHO−5 score</text>
<text class="ax ay" text-anchor="middle" transform="translate(33 1375.67) rotate(-90)">(0−100)</text>
<text class="lb" transform="translate(127.51 1229.95) scale(1.1 1)">m</text>
</g>
<g id="panel-n">
<rect class="bg" x="565" y="1205.1" width="416" height="340.75"/>
<path class="gm" d="M565 1220.59H981M565 1309.12H981M565 1397.65H981M565 1486.19H981M615.36 1205.1V1545.85M678.38 1205.1V1545.85M741.39 1205.1V1545.85M804.41 1205.1V1545.85M867.43 1205.1V1545.85M930.44 1205.1V1545.85"/>
<path class="gM" d="M565 1264.86H981M565 1353.39H981M565 1441.92H981M565 1530.45H981M583.85 1205.1V1545.85M646.87 1205.1V1545.85M709.88 1205.1V1545.85M772.9 1205.1V1545.85M835.92 1205.1V1545.85M898.93 1205.1V1545.85M961.95 1205.1V1545.85"/>
<polygon class="rb" points="583.85,1453.46 590.6,1455.46 597.35,1457.39 604.11,1459.25 610.86,1461.04 617.61,1462.76 624.36,1464.43 631.11,1466.02 637.86,1467.56 644.62,1469.03 651.37,1470.44 658.12,1471.79 664.87,1473.09 671.62,1474.32 678.38,1475.5 685.13,1476.62 691.88,1477.69 698.63,1478.7 705.38,1479.66 712.13,1480.57 718.89,1481.42 725.64,1482.23 732.39,1482.99 739.14,1483.7 745.89,1484.36 752.64,1484.98 759.4,1485.55 766.15,1486.07 772.9,1486.56 779.65,1487 786.4,1487.4 793.16,1487.76 799.91,1488.08 806.66,1488.36 813.41,1488.61 820.16,1488.81 826.91,1488.99 833.67,1489.13 840.42,1489.23 847.17,1489.3 853.92,1489.35 860.67,1489.36 867.43,1489.34 874.18,1489.29 880.93,1489.22 887.68,1489.12 894.43,1488.99 901.18,1488.84 907.94,1488.67 914.69,1488.47 921.44,1488.25 928.19,1488.01 934.94,1487.75 941.69,1487.48 948.45,1487.18 955.2,1486.87 961.95,1486.54 961.95,1512.33 955.2,1512.51 948.45,1512.68 941.69,1512.86 934.94,1513.03 928.19,1513.2 921.44,1513.36 914.69,1513.52 907.94,1513.67 901.18,1513.82 894.43,1513.96 887.68,1514.08 880.93,1514.2 874.18,1514.3 867.43,1514.4 860.67,1514.47 853.92,1514.53 847.17,1514.58 840.42,1514.6 833.67,1514.61 826.91,1514.6 820.16,1514.56 813.41,1514.51 806.66,1514.43 799.91,1514.32 793.16,1514.19 786.4,1514.03 779.65,1513.84 772.9,1513.63 766.15,1513.38 759.4,1513.1 752.64,1512.79 745.89,1512.45 739.14,1512.07 732.39,1511.65 725.64,1511.2 718.89,1510.71 712.13,1510.18 705.38,1509.6 698.63,1508.99 691.88,1508.33 685.13,1507.63 678.38,1506.88 671.62,1506.09 664.87,1505.25 658.12,1504.36 651.37,1503.42 644.62,1502.43 637.86,1501.38 631.11,1500.28 624.36,1499.13 617.61,1497.92 610.86,1496.66 604.11,1495.34 597.35,1493.96 590.6,1492.51 583.85,1491.01"/>
<polyline class="ln" style="stroke-width:1.8" points="583.85,1474.85 590.6,1476.65 597.35,1478.38 604.11,1480.04 610.86,1481.64 617.61,1483.17 624.36,1484.63 631.11,1486.04 637.86,1487.39 644.62,1488.67 651.37,1489.9 658.12,1491.06 664.87,1492.18 671.62,1493.23 678.38,1494.23 685.13,1495.18 691.88,1496.08 698.63,1496.92 705.38,1497.72 712.13,1498.46 718.89,1499.16 725.64,1499.81 732.39,1500.42 739.14,1500.98 745.89,1501.5 752.64,1501.98 759.4,1502.41 766.15,1502.81 772.9,1503.16 779.65,1503.48 786.4,1503.76 793.16,1504.01 799.91,1504.22 806.66,1504.4 813.41,1504.54 820.16,1504.66 826.91,1504.74 833.67,1504.79 840.42,1504.82 847.17,1504.82 853.92,1504.8 860.67,1504.75 867.43,1504.68 874.18,1504.58 880.93,1504.46 887.68,1504.33 894.43,1504.17 901.18,1504 907.94,1503.81 914.69,1503.6 921.44,1503.38 928.19,1503.15 934.94,1502.9 941.69,1502.64 948.45,1502.37 955.2,1502.1 961.95,1501.81"/>
<polygon class="ro" points="583.85,1453.46 590.6,1455.46 597.35,1457.39 604.11,1459.25 610.86,1461.04 617.61,1462.76 624.36,1464.43 631.11,1466.02 637.86,1467.56 644.62,1469.03 651.37,1470.44 658.12,1471.79 664.87,1473.09 671.62,1474.32 678.38,1475.5 685.13,1476.62 691.88,1477.69 698.63,1478.7 705.38,1479.66 712.13,1480.57 718.89,1481.42 725.64,1482.23 732.39,1482.99 739.14,1483.7 745.89,1484.36 752.64,1484.98 759.4,1485.55 766.15,1486.07 772.9,1486.56 779.65,1487 786.4,1487.4 793.16,1487.76 799.91,1488.08 806.66,1488.36 813.41,1488.61 820.16,1488.81 826.91,1488.99 833.67,1489.13 840.42,1489.23 847.17,1489.3 853.92,1489.35 860.67,1489.36 867.43,1489.34 874.18,1489.29 880.93,1489.22 887.68,1489.12 894.43,1488.99 901.18,1488.84 907.94,1488.67 914.69,1488.47 921.44,1488.25 928.19,1488.01 934.94,1487.75 941.69,1487.48 948.45,1487.18 955.2,1486.87 961.95,1486.54 961.95,1512.33 955.2,1512.51 948.45,1512.68 941.69,1512.86 934.94,1513.03 928.19,1513.2 921.44,1513.36 914.69,1513.52 907.94,1513.67 901.18,1513.82 894.43,1513.96 887.68,1514.08 880.93,1514.2 874.18,1514.3 867.43,1514.4 860.67,1514.47 853.92,1514.53 847.17,1514.58 840.42,1514.6 833.67,1514.61 826.91,1514.6 820.16,1514.56 813.41,1514.51 806.66,1514.43 799.91,1514.32 793.16,1514.19 786.4,1514.03 779.65,1513.84 772.9,1513.63 766.15,1513.38 759.4,1513.1 752.64,1512.79 745.89,1512.45 739.14,1512.07 732.39,1511.65 725.64,1511.2 718.89,1510.71 712.13,1510.18 705.38,1509.6 698.63,1508.99 691.88,1508.33 685.13,1507.63 678.38,1506.88 671.62,1506.09 664.87,1505.25 658.12,1504.36 651.37,1503.42 644.62,1502.43 637.86,1501.38 631.11,1500.28 624.36,1499.13 617.61,1497.92 610.86,1496.66 604.11,1495.34 597.35,1493.96 590.6,1492.51 583.85,1491.01"/>
<path class="t" d="M560.8 1264.86H565M560.8 1353.39H565M560.8 1441.92H565M560.8 1530.45H565M583.85 1545.85V1550.05M646.87 1545.85V1550.05M709.88 1545.85V1550.05M772.9 1545.85V1550.05M835.92 1545.85V1550.05M898.93 1545.85V1550.05M961.95 1545.85V1550.05"/>
<text class="tk" text-anchor="end" transform="translate(557.3 1270) scale(1.045 1.1)">0.6</text>
<text class="tk" text-anchor="end" transform="translate(557.3 1358) scale(1.045 1.1)">0.4</text>
<text class="tk" text-anchor="end" transform="translate(557.3 1447) scale(1.045 1.1)">0.2</text>
<text class="tk" text-anchor="end" transform="translate(557.3 1535) scale(1.045 1.1)">0.0</text>
<text class="tk" text-anchor="middle" transform="translate(583.85 1563) scale(1 1.1)">1</text>
<text class="tk" text-anchor="middle" transform="translate(646.87 1563) scale(1 1.1)">2</text>
<text class="tk" text-anchor="middle" transform="translate(709.88 1563) scale(1 1.1)">3</text>
<text class="tk" text-anchor="middle" transform="translate(772.9 1563) scale(1 1.1)">4</text>
<text class="tk" text-anchor="middle" transform="translate(835.92 1563) scale(1 1.1)">5</text>
<text class="tk" text-anchor="middle" transform="translate(898.93 1563) scale(1 1.1)">6</text>
<text class="tk" text-anchor="middle" transform="translate(961.95 1563) scale(1 1.1)">7</text>
<text class="ax axx" text-anchor="middle" x="772.8" y="1583">Nature connectedness (1−7)</text>
<text class="ax ay" text-anchor="middle" transform="translate(511.9 1374.97) rotate(-90)">Predicted probability of</text>
<text class="ax ay" text-anchor="middle" transform="translate(530 1375.72) rotate(-90)">depression (WHO−5 score &lt;28)</text>
<text class="lb" transform="translate(622.29 1229.95) scale(1.1 1)">n</text>
</g>
<g id="panel-o">
<rect class="bg" x="1062.55" y="1205.1" width="415.95" height="340.75"/>
<path class="gm" d="M1062.55 1220.59H1478.5M1062.55 1309.12H1478.5M1062.55 1397.65H1478.5M1062.55 1486.19H1478.5M1112.88 1205.1V1545.85M1175.85 1205.1V1545.85M1238.82 1205.1V1545.85M1301.78 1205.1V1545.85M1364.75 1205.1V1545.85M1427.72 1205.1V1545.85"/>
<path class="gM" d="M1062.55 1264.86H1478.5M1062.55 1353.39H1478.5M1062.55 1441.92H1478.5M1062.55 1530.45H1478.5M1081.4 1205.1V1545.85M1144.37 1205.1V1545.85M1207.33 1205.1V1545.85M1270.3 1205.1V1545.85M1333.27 1205.1V1545.85M1396.23 1205.1V1545.85M1459.2 1205.1V1545.85"/>
<polygon class="rb" points="1081.4,1498.06 1088.15,1498.26 1094.89,1498.45 1101.64,1498.64 1108.39,1498.82 1115.13,1498.99 1121.88,1499.16 1128.62,1499.33 1135.37,1499.48 1142.12,1499.63 1148.86,1499.78 1155.61,1499.91 1162.36,1500.05 1169.1,1500.17 1175.85,1500.29 1182.6,1500.41 1189.34,1500.51 1196.09,1500.62 1202.84,1500.71 1209.58,1500.8 1216.33,1500.89 1223.07,1500.97 1229.82,1501.04 1236.57,1501.11 1243.31,1501.17 1250.06,1501.22 1256.81,1501.27 1263.55,1501.31 1270.3,1501.35 1277.05,1501.38 1283.79,1501.41 1290.54,1501.43 1297.29,1501.45 1304.03,1501.46 1310.78,1501.46 1317.53,1501.46 1324.27,1501.45 1331.02,1501.44 1337.76,1501.42 1344.51,1501.4 1351.26,1501.37 1358,1501.33 1364.75,1501.29 1371.5,1501.25 1378.24,1501.2 1384.99,1501.14 1391.74,1501.08 1398.48,1501.01 1405.23,1500.94 1411.97,1500.86 1418.72,1500.78 1425.47,1500.69 1432.21,1500.6 1438.96,1500.5 1445.71,1500.39 1452.45,1500.28 1459.2,1500.17 1459.2,1519.91 1452.45,1520.04 1445.71,1520.17 1438.96,1520.29 1432.21,1520.41 1425.47,1520.51 1418.72,1520.62 1411.97,1520.71 1405.23,1520.8 1398.48,1520.89 1391.74,1520.97 1384.99,1521.04 1378.24,1521.1 1371.5,1521.16 1364.75,1521.21 1358,1521.26 1351.26,1521.3 1344.51,1521.33 1337.76,1521.36 1331.02,1521.38 1324.27,1521.39 1317.53,1521.39 1310.78,1521.39 1304.03,1521.38 1297.29,1521.37 1290.54,1521.35 1283.79,1521.32 1277.05,1521.28 1270.3,1521.23 1263.55,1521.18 1256.81,1521.12 1250.06,1521.05 1243.31,1520.98 1236.57,1520.9 1229.82,1520.81 1223.07,1520.71 1216.33,1520.6 1209.58,1520.49 1202.84,1520.37 1196.09,1520.24 1189.34,1520.1 1182.6,1519.95 1175.85,1519.8 1169.1,1519.64 1162.36,1519.47 1155.61,1519.29 1148.86,1519.1 1142.12,1518.91 1135.37,1518.7 1128.62,1518.49 1121.88,1518.27 1115.13,1518.03 1108.39,1517.8 1101.64,1517.55 1094.89,1517.29 1088.15,1517.02 1081.4,1516.75"/>
<polyline class="ln" style="stroke-width:1.8" points="1081.4,1509.1 1088.15,1509.38 1094.89,1509.66 1101.64,1509.92 1108.39,1510.17 1115.13,1510.42 1121.88,1510.65 1128.62,1510.88 1135.37,1511.1 1142.12,1511.31 1148.86,1511.51 1155.61,1511.7 1162.36,1511.88 1169.1,1512.05 1175.85,1512.22 1182.6,1512.37 1189.34,1512.52 1196.09,1512.66 1202.84,1512.79 1209.58,1512.91 1216.33,1513.03 1223.07,1513.14 1229.82,1513.23 1236.57,1513.33 1243.31,1513.41 1250.06,1513.48 1256.81,1513.55 1263.55,1513.61 1270.3,1513.67 1277.05,1513.71 1283.79,1513.75 1290.54,1513.78 1297.29,1513.81 1304.03,1513.82 1310.78,1513.83 1317.53,1513.84 1324.27,1513.83 1331.02,1513.82 1337.76,1513.81 1344.51,1513.78 1351.26,1513.75 1358,1513.72 1364.75,1513.68 1371.5,1513.63 1378.24,1513.57 1384.99,1513.51 1391.74,1513.45 1398.48,1513.37 1405.23,1513.29 1411.97,1513.21 1418.72,1513.12 1425.47,1513.03 1432.21,1512.92 1438.96,1512.82 1445.71,1512.71 1452.45,1512.59 1459.2,1512.47"/>
<polygon class="ro" points="1081.4,1498.06 1088.15,1498.26 1094.89,1498.45 1101.64,1498.64 1108.39,1498.82 1115.13,1498.99 1121.88,1499.16 1128.62,1499.33 1135.37,1499.48 1142.12,1499.63 1148.86,1499.78 1155.61,1499.91 1162.36,1500.05 1169.1,1500.17 1175.85,1500.29 1182.6,1500.41 1189.34,1500.51 1196.09,1500.62 1202.84,1500.71 1209.58,1500.8 1216.33,1500.89 1223.07,1500.97 1229.82,1501.04 1236.57,1501.11 1243.31,1501.17 1250.06,1501.22 1256.81,1501.27 1263.55,1501.31 1270.3,1501.35 1277.05,1501.38 1283.79,1501.41 1290.54,1501.43 1297.29,1501.45 1304.03,1501.46 1310.78,1501.46 1317.53,1501.46 1324.27,1501.45 1331.02,1501.44 1337.76,1501.42 1344.51,1501.4 1351.26,1501.37 1358,1501.33 1364.75,1501.29 1371.5,1501.25 1378.24,1501.2 1384.99,1501.14 1391.74,1501.08 1398.48,1501.01 1405.23,1500.94 1411.97,1500.86 1418.72,1500.78 1425.47,1500.69 1432.21,1500.6 1438.96,1500.5 1445.71,1500.39 1452.45,1500.28 1459.2,1500.17 1459.2,1519.91 1452.45,1520.04 1445.71,1520.17 1438.96,1520.29 1432.21,1520.41 1425.47,1520.51 1418.72,1520.62 1411.97,1520.71 1405.23,1520.8 1398.48,1520.89 1391.74,1520.97 1384.99,1521.04 1378.24,1521.1 1371.5,1521.16 1364.75,1521.21 1358,1521.26 1351.26,1521.3 1344.51,1521.33 1337.76,1521.36 1331.02,1521.38 1324.27,1521.39 1317.53,1521.39 1310.78,1521.39 1304.03,1521.38 1297.29,1521.37 1290.54,1521.35 1283.79,1521.32 1277.05,1521.28 1270.3,1521.23 1263.55,1521.18 1256.81,1521.12 1250.06,1521.05 1243.31,1520.98 1236.57,1520.9 1229.82,1520.81 1223.07,1520.71 1216.33,1520.6 1209.58,1520.49 1202.84,1520.37 1196.09,1520.24 1189.34,1520.1 1182.6,1519.95 1175.85,1519.8 1169.1,1519.64 1162.36,1519.47 1155.61,1519.29 1148.86,1519.1 1142.12,1518.91 1135.37,1518.7 1128.62,1518.49 1121.88,1518.27 1115.13,1518.03 1108.39,1517.8 1101.64,1517.55 1094.89,1517.29 1088.15,1517.02 1081.4,1516.75"/>
<path class="t" d="M1058.35 1264.86H1062.55M1058.35 1353.39H1062.55M1058.35 1441.92H1062.55M1058.35 1530.45H1062.55M1081.4 1545.85V1550.05M1144.37 1545.85V1550.05M1207.33 1545.85V1550.05M1270.3 1545.85V1550.05M1333.27 1545.85V1550.05M1396.23 1545.85V1550.05M1459.2 1545.85V1550.05"/>
<text class="tk" text-anchor="end" transform="translate(1054.85 1270) scale(1.045 1.1)">0.6</text>
<text class="tk" text-anchor="end" transform="translate(1054.85 1358) scale(1.045 1.1)">0.4</text>
<text class="tk" text-anchor="end" transform="translate(1054.85 1447) scale(1.045 1.1)">0.2</text>
<text class="tk" text-anchor="end" transform="translate(1054.85 1535) scale(1.045 1.1)">0.0</text>
<text class="tk" text-anchor="middle" transform="translate(1081.4 1563) scale(1 1.1)">1</text>
<text class="tk" text-anchor="middle" transform="translate(1144.37 1563) scale(1 1.1)">2</text>
<text class="tk" text-anchor="middle" transform="translate(1207.33 1563) scale(1 1.1)">3</text>
<text class="tk" text-anchor="middle" transform="translate(1270.3 1563) scale(1 1.1)">4</text>
<text class="tk" text-anchor="middle" transform="translate(1333.27 1563) scale(1 1.1)">5</text>
<text class="tk" text-anchor="middle" transform="translate(1396.23 1563) scale(1 1.1)">6</text>
<text class="tk" text-anchor="middle" transform="translate(1459.2 1563) scale(1 1.1)">7</text>
<text class="ax axx" text-anchor="middle" x="1270.33" y="1583">Nature connectedness (1−7)</text>
<text class="ax ay" text-anchor="middle" transform="translate(1009.45 1374.97) rotate(-90)">Predicted probability of</text>
<text class="ax ay" text-anchor="middle" transform="translate(1027.55 1375.72) rotate(-90)">taking depression medication</text>
<text class="lb" transform="translate(1119.79 1229.95) scale(1.1 1)">o</text>
</g>
<g id="panel-p">
<rect class="bg" x="1560" y="1205.1" width="415.9" height="340.75"/>
<path class="gm" d="M1560 1220.59H1975.9M1560 1309.12H1975.9M1560 1397.65H1975.9M1560 1486.19H1975.9M1610.4 1205.1V1545.85M1673.4 1205.1V1545.85M1736.4 1205.1V1545.85M1799.4 1205.1V1545.85M1862.4 1205.1V1545.85M1925.4 1205.1V1545.85"/>
<path class="gM" d="M1560 1264.86H1975.9M1560 1353.39H1975.9M1560 1441.92H1975.9M1560 1530.45H1975.9M1578.9 1205.1V1545.85M1641.9 1205.1V1545.85M1704.9 1205.1V1545.85M1767.9 1205.1V1545.85M1830.9 1205.1V1545.85M1893.9 1205.1V1545.85M1956.9 1205.1V1545.85"/>
<polygon class="rb" points="1578.9,1493.47 1585.65,1493.33 1592.4,1493.21 1599.15,1493.09 1605.9,1492.98 1612.65,1492.88 1619.4,1492.79 1626.15,1492.7 1632.9,1492.63 1639.65,1492.56 1646.4,1492.51 1653.15,1492.46 1659.9,1492.42 1666.65,1492.39 1673.4,1492.37 1680.15,1492.35 1686.9,1492.35 1693.65,1492.35 1700.4,1492.36 1707.15,1492.37 1713.9,1492.4 1720.65,1492.43 1727.4,1492.47 1734.15,1492.51 1740.9,1492.57 1747.65,1492.63 1754.4,1492.7 1761.15,1492.77 1767.9,1492.85 1774.65,1492.94 1781.4,1493.03 1788.15,1493.14 1794.9,1493.24 1801.65,1493.36 1808.4,1493.48 1815.15,1493.6 1821.9,1493.73 1828.65,1493.87 1835.4,1494.02 1842.15,1494.16 1848.9,1494.32 1855.65,1494.48 1862.4,1494.64 1869.15,1494.81 1875.9,1494.99 1882.65,1495.17 1889.4,1495.36 1896.15,1495.55 1902.9,1495.74 1909.65,1495.94 1916.4,1496.15 1923.15,1496.36 1929.9,1496.57 1936.65,1496.79 1943.4,1497.01 1950.15,1497.23 1956.9,1497.46 1956.9,1518.06 1950.15,1518.1 1943.4,1518.14 1936.65,1518.17 1929.9,1518.19 1923.15,1518.21 1916.4,1518.22 1909.65,1518.23 1902.9,1518.23 1896.15,1518.23 1889.4,1518.22 1882.65,1518.21 1875.9,1518.19 1869.15,1518.17 1862.4,1518.14 1855.65,1518.11 1848.9,1518.08 1842.15,1518.04 1835.4,1517.99 1828.65,1517.94 1821.9,1517.89 1815.15,1517.83 1808.4,1517.76 1801.65,1517.7 1794.9,1517.63 1788.15,1517.55 1781.4,1517.47 1774.65,1517.39 1767.9,1517.3 1761.15,1517.21 1754.4,1517.11 1747.65,1517.02 1740.9,1516.91 1734.15,1516.81 1727.4,1516.7 1720.65,1516.58 1713.9,1516.47 1707.15,1516.35 1700.4,1516.22 1693.65,1516.1 1686.9,1515.97 1680.15,1515.84 1673.4,1515.7 1666.65,1515.56 1659.9,1515.42 1653.15,1515.28 1646.4,1515.13 1639.65,1514.98 1632.9,1514.83 1626.15,1514.67 1619.4,1514.51 1612.65,1514.35 1605.9,1514.19 1599.15,1514.02 1592.4,1513.86 1585.65,1513.69 1578.9,1513.51"/>
<polyline class="ln" style="stroke-width:2.8" points="1578.9,1505.49 1585.65,1505.57 1592.4,1505.66 1599.15,1505.75 1605.9,1505.84 1612.65,1505.94 1619.4,1506.03 1626.15,1506.13 1632.9,1506.23 1639.65,1506.33 1646.4,1506.43 1653.15,1506.54 1659.9,1506.64 1666.65,1506.75 1673.4,1506.85 1680.15,1506.96 1686.9,1507.07 1693.65,1507.18 1700.4,1507.28 1707.15,1507.39 1713.9,1507.5 1720.65,1507.61 1727.4,1507.72 1734.15,1507.83 1740.9,1507.94 1747.65,1508.05 1754.4,1508.15 1761.15,1508.26 1767.9,1508.37 1774.65,1508.47 1781.4,1508.58 1788.15,1508.68 1794.9,1508.78 1801.65,1508.88 1808.4,1508.98 1815.15,1509.07 1821.9,1509.17 1828.65,1509.26 1835.4,1509.35 1842.15,1509.44 1848.9,1509.53 1855.65,1509.61 1862.4,1509.69 1869.15,1509.77 1875.9,1509.85 1882.65,1509.92 1889.4,1509.99 1896.15,1510.06 1902.9,1510.12 1909.65,1510.18 1916.4,1510.24 1923.15,1510.29 1929.9,1510.34 1936.65,1510.38 1943.4,1510.43 1950.15,1510.46 1956.9,1510.5"/>
<polygon class="ro" points="1578.9,1493.47 1585.65,1493.33 1592.4,1493.21 1599.15,1493.09 1605.9,1492.98 1612.65,1492.88 1619.4,1492.79 1626.15,1492.7 1632.9,1492.63 1639.65,1492.56 1646.4,1492.51 1653.15,1492.46 1659.9,1492.42 1666.65,1492.39 1673.4,1492.37 1680.15,1492.35 1686.9,1492.35 1693.65,1492.35 1700.4,1492.36 1707.15,1492.37 1713.9,1492.4 1720.65,1492.43 1727.4,1492.47 1734.15,1492.51 1740.9,1492.57 1747.65,1492.63 1754.4,1492.7 1761.15,1492.77 1767.9,1492.85 1774.65,1492.94 1781.4,1493.03 1788.15,1493.14 1794.9,1493.24 1801.65,1493.36 1808.4,1493.48 1815.15,1493.6 1821.9,1493.73 1828.65,1493.87 1835.4,1494.02 1842.15,1494.16 1848.9,1494.32 1855.65,1494.48 1862.4,1494.64 1869.15,1494.81 1875.9,1494.99 1882.65,1495.17 1889.4,1495.36 1896.15,1495.55 1902.9,1495.74 1909.65,1495.94 1916.4,1496.15 1923.15,1496.36 1929.9,1496.57 1936.65,1496.79 1943.4,1497.01 1950.15,1497.23 1956.9,1497.46 1956.9,1518.06 1950.15,1518.1 1943.4,1518.14 1936.65,1518.17 1929.9,1518.19 1923.15,1518.21 1916.4,1518.22 1909.65,1518.23 1902.9,1518.23 1896.15,1518.23 1889.4,1518.22 1882.65,1518.21 1875.9,1518.19 1869.15,1518.17 1862.4,1518.14 1855.65,1518.11 1848.9,1518.08 1842.15,1518.04 1835.4,1517.99 1828.65,1517.94 1821.9,1517.89 1815.15,1517.83 1808.4,1517.76 1801.65,1517.7 1794.9,1517.63 1788.15,1517.55 1781.4,1517.47 1774.65,1517.39 1767.9,1517.3 1761.15,1517.21 1754.4,1517.11 1747.65,1517.02 1740.9,1516.91 1734.15,1516.81 1727.4,1516.7 1720.65,1516.58 1713.9,1516.47 1707.15,1516.35 1700.4,1516.22 1693.65,1516.1 1686.9,1515.97 1680.15,1515.84 1673.4,1515.7 1666.65,1515.56 1659.9,1515.42 1653.15,1515.28 1646.4,1515.13 1639.65,1514.98 1632.9,1514.83 1626.15,1514.67 1619.4,1514.51 1612.65,1514.35 1605.9,1514.19 1599.15,1514.02 1592.4,1513.86 1585.65,1513.69 1578.9,1513.51"/>
<path class="t" d="M1555.8 1264.86H1560M1555.8 1353.39H1560M1555.8 1441.92H1560M1555.8 1530.45H1560M1578.9 1545.85V1550.05M1641.9 1545.85V1550.05M1704.9 1545.85V1550.05M1767.9 1545.85V1550.05M1830.9 1545.85V1550.05M1893.9 1545.85V1550.05M1956.9 1545.85V1550.05"/>
<text class="tk" text-anchor="end" transform="translate(1552.3 1270) scale(1.045 1.1)">0.6</text>
<text class="tk" text-anchor="end" transform="translate(1552.3 1358) scale(1.045 1.1)">0.4</text>
<text class="tk" text-anchor="end" transform="translate(1552.3 1447) scale(1.045 1.1)">0.2</text>
<text class="tk" text-anchor="end" transform="translate(1552.3 1535) scale(1.045 1.1)">0.0</text>
<text class="tk" text-anchor="middle" transform="translate(1578.9 1563) scale(1 1.1)">1</text>
<text class="tk" text-anchor="middle" transform="translate(1641.9 1563) scale(1 1.1)">2</text>
<text class="tk" text-anchor="middle" transform="translate(1704.9 1563) scale(1 1.1)">3</text>
<text class="tk" text-anchor="middle" transform="translate(1767.9 1563) scale(1 1.1)">4</text>
<text class="tk" text-anchor="middle" transform="translate(1830.9 1563) scale(1 1.1)">5</text>
<text class="tk" text-anchor="middle" transform="translate(1893.9 1563) scale(1 1.1)">6</text>
<text class="tk" text-anchor="middle" transform="translate(1956.9 1563) scale(1 1.1)">7</text>
<text class="ax axx" text-anchor="middle" x="1767.75" y="1583">Nature connectedness (1−7)</text>
<text class="ax ay" text-anchor="middle" transform="translate(1506.9 1374.97) rotate(-90)">Predicted probability of</text>
<text class="ax ay" text-anchor="middle" transform="translate(1525 1375.72) rotate(-90)">taking anxiety medication</text>
<text class="lb" transform="translate(1617.29 1229.95) scale(1.1 1)">p</text>
</g>
</svg>
</body></html>
